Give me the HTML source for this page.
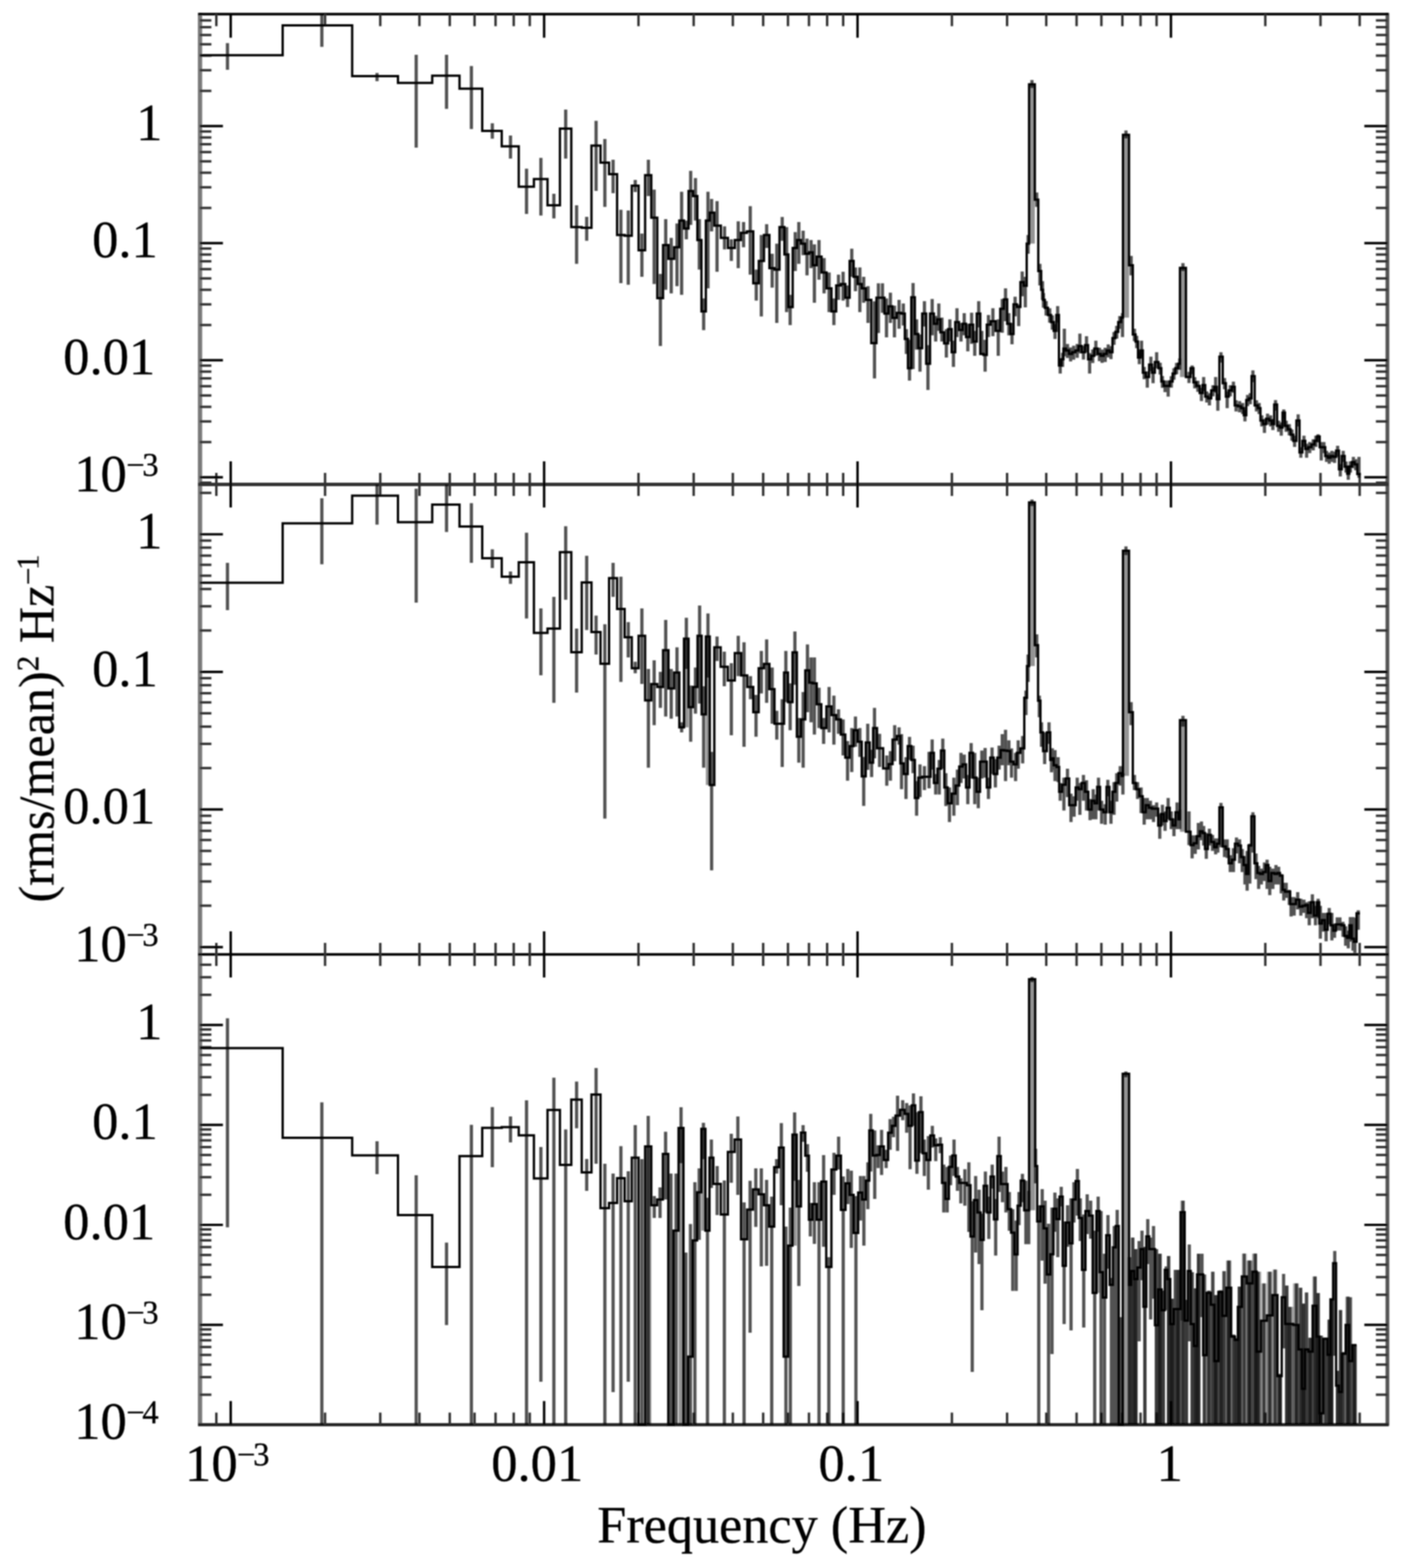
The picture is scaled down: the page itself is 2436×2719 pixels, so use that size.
<!DOCTYPE html>
<html><head><meta charset="utf-8"><title>Power spectra</title>
<style>html,body{margin:0;padding:0;background:#fff;width:100%;height:100%;overflow:hidden;}svg{display:block;width:100vw;height:100vh;}</style></head>
<body>
<svg viewBox="0 0 2436 2719" preserveAspectRatio="none" role="img" aria-label="Power spectra: (rms/mean) squared per Hz versus frequency (Hz), three panels">
<defs><filter id="b" x="0" y="0" width="100%" height="100%" filterUnits="userSpaceOnUse"><feGaussianBlur stdDeviation="1.1"/></filter></defs>
<rect width="2436" height="2719" fill="#fff"/>
<g filter="url(#b)">
<g id="frame" stroke-linecap="butt">
<line x1="346.8" y1="22.4" x2="346.8" y2="2472.5" stroke="#7a7a7a" stroke-width="7.5"/>
<line x1="2405.5" y1="22.4" x2="2405.5" y2="2472.5" stroke="#555" stroke-width="6.5"/>
<line x1="343.5" y1="24.4" x2="2407.5" y2="24.4" stroke="#000" stroke-width="4.5"/>
<line x1="343.5" y1="840.0" x2="2407.5" y2="840.0" stroke="#333" stroke-width="6"/>
<line x1="343.5" y1="1655.0" x2="2407.5" y2="1655.0" stroke="#000" stroke-width="4.5"/>
<line x1="343.5" y1="2470.5" x2="2407.5" y2="2470.5" stroke="#222" stroke-width="5.5"/>
<line x1="375.1" y1="24.4" x2="375.1" y2="45.4" stroke="#333" stroke-width="4.2"/>
<line x1="375.1" y1="820.0" x2="375.1" y2="860.0" stroke="#333" stroke-width="4.2"/>
<line x1="375.1" y1="1635.0" x2="375.1" y2="1675.0" stroke="#333" stroke-width="4.2"/>
<line x1="375.1" y1="2449.5" x2="375.1" y2="2470.5" stroke="#333" stroke-width="4.2"/>
<line x1="400.0" y1="24.4" x2="400.0" y2="65.4" stroke="#000" stroke-width="4.2"/>
<line x1="400.0" y1="800.0" x2="400.0" y2="880.0" stroke="#000" stroke-width="4.2"/>
<line x1="400.0" y1="1615.0" x2="400.0" y2="1695.0" stroke="#000" stroke-width="4.2"/>
<line x1="400.0" y1="2429.5" x2="400.0" y2="2470.5" stroke="#000" stroke-width="4.2"/>
<line x1="563.6" y1="24.4" x2="563.6" y2="45.4" stroke="#333" stroke-width="4.2"/>
<line x1="563.6" y1="820.0" x2="563.6" y2="860.0" stroke="#333" stroke-width="4.2"/>
<line x1="563.6" y1="1635.0" x2="563.6" y2="1675.0" stroke="#333" stroke-width="4.2"/>
<line x1="563.6" y1="2449.5" x2="563.6" y2="2470.5" stroke="#333" stroke-width="4.2"/>
<line x1="659.3" y1="24.4" x2="659.3" y2="45.4" stroke="#333" stroke-width="4.2"/>
<line x1="659.3" y1="820.0" x2="659.3" y2="860.0" stroke="#333" stroke-width="4.2"/>
<line x1="659.3" y1="1635.0" x2="659.3" y2="1675.0" stroke="#333" stroke-width="4.2"/>
<line x1="659.3" y1="2449.5" x2="659.3" y2="2470.5" stroke="#333" stroke-width="4.2"/>
<line x1="727.2" y1="24.4" x2="727.2" y2="45.4" stroke="#333" stroke-width="4.2"/>
<line x1="727.2" y1="820.0" x2="727.2" y2="860.0" stroke="#333" stroke-width="4.2"/>
<line x1="727.2" y1="1635.0" x2="727.2" y2="1675.0" stroke="#333" stroke-width="4.2"/>
<line x1="727.2" y1="2449.5" x2="727.2" y2="2470.5" stroke="#333" stroke-width="4.2"/>
<line x1="779.8" y1="24.4" x2="779.8" y2="45.4" stroke="#333" stroke-width="4.2"/>
<line x1="779.8" y1="820.0" x2="779.8" y2="860.0" stroke="#333" stroke-width="4.2"/>
<line x1="779.8" y1="1635.0" x2="779.8" y2="1675.0" stroke="#333" stroke-width="4.2"/>
<line x1="779.8" y1="2449.5" x2="779.8" y2="2470.5" stroke="#333" stroke-width="4.2"/>
<line x1="822.8" y1="24.4" x2="822.8" y2="45.4" stroke="#333" stroke-width="4.2"/>
<line x1="822.8" y1="820.0" x2="822.8" y2="860.0" stroke="#333" stroke-width="4.2"/>
<line x1="822.8" y1="1635.0" x2="822.8" y2="1675.0" stroke="#333" stroke-width="4.2"/>
<line x1="822.8" y1="2449.5" x2="822.8" y2="2470.5" stroke="#333" stroke-width="4.2"/>
<line x1="859.2" y1="24.4" x2="859.2" y2="45.4" stroke="#333" stroke-width="4.2"/>
<line x1="859.2" y1="820.0" x2="859.2" y2="860.0" stroke="#333" stroke-width="4.2"/>
<line x1="859.2" y1="1635.0" x2="859.2" y2="1675.0" stroke="#333" stroke-width="4.2"/>
<line x1="859.2" y1="2449.5" x2="859.2" y2="2470.5" stroke="#333" stroke-width="4.2"/>
<line x1="890.7" y1="24.4" x2="890.7" y2="45.4" stroke="#333" stroke-width="4.2"/>
<line x1="890.7" y1="820.0" x2="890.7" y2="860.0" stroke="#333" stroke-width="4.2"/>
<line x1="890.7" y1="1635.0" x2="890.7" y2="1675.0" stroke="#333" stroke-width="4.2"/>
<line x1="890.7" y1="2449.5" x2="890.7" y2="2470.5" stroke="#333" stroke-width="4.2"/>
<line x1="918.5" y1="24.4" x2="918.5" y2="45.4" stroke="#333" stroke-width="4.2"/>
<line x1="918.5" y1="820.0" x2="918.5" y2="860.0" stroke="#333" stroke-width="4.2"/>
<line x1="918.5" y1="1635.0" x2="918.5" y2="1675.0" stroke="#333" stroke-width="4.2"/>
<line x1="918.5" y1="2449.5" x2="918.5" y2="2470.5" stroke="#333" stroke-width="4.2"/>
<line x1="943.4" y1="24.4" x2="943.4" y2="65.4" stroke="#000" stroke-width="4.2"/>
<line x1="943.4" y1="800.0" x2="943.4" y2="880.0" stroke="#000" stroke-width="4.2"/>
<line x1="943.4" y1="1615.0" x2="943.4" y2="1695.0" stroke="#000" stroke-width="4.2"/>
<line x1="943.4" y1="2429.5" x2="943.4" y2="2470.5" stroke="#000" stroke-width="4.2"/>
<line x1="1107.0" y1="24.4" x2="1107.0" y2="45.4" stroke="#333" stroke-width="4.2"/>
<line x1="1107.0" y1="820.0" x2="1107.0" y2="860.0" stroke="#333" stroke-width="4.2"/>
<line x1="1107.0" y1="1635.0" x2="1107.0" y2="1675.0" stroke="#333" stroke-width="4.2"/>
<line x1="1107.0" y1="2449.5" x2="1107.0" y2="2470.5" stroke="#333" stroke-width="4.2"/>
<line x1="1202.7" y1="24.4" x2="1202.7" y2="45.4" stroke="#333" stroke-width="4.2"/>
<line x1="1202.7" y1="820.0" x2="1202.7" y2="860.0" stroke="#333" stroke-width="4.2"/>
<line x1="1202.7" y1="1635.0" x2="1202.7" y2="1675.0" stroke="#333" stroke-width="4.2"/>
<line x1="1202.7" y1="2449.5" x2="1202.7" y2="2470.5" stroke="#333" stroke-width="4.2"/>
<line x1="1270.6" y1="24.4" x2="1270.6" y2="45.4" stroke="#333" stroke-width="4.2"/>
<line x1="1270.6" y1="820.0" x2="1270.6" y2="860.0" stroke="#333" stroke-width="4.2"/>
<line x1="1270.6" y1="1635.0" x2="1270.6" y2="1675.0" stroke="#333" stroke-width="4.2"/>
<line x1="1270.6" y1="2449.5" x2="1270.6" y2="2470.5" stroke="#333" stroke-width="4.2"/>
<line x1="1323.2" y1="24.4" x2="1323.2" y2="45.4" stroke="#333" stroke-width="4.2"/>
<line x1="1323.2" y1="820.0" x2="1323.2" y2="860.0" stroke="#333" stroke-width="4.2"/>
<line x1="1323.2" y1="1635.0" x2="1323.2" y2="1675.0" stroke="#333" stroke-width="4.2"/>
<line x1="1323.2" y1="2449.5" x2="1323.2" y2="2470.5" stroke="#333" stroke-width="4.2"/>
<line x1="1366.2" y1="24.4" x2="1366.2" y2="45.4" stroke="#333" stroke-width="4.2"/>
<line x1="1366.2" y1="820.0" x2="1366.2" y2="860.0" stroke="#333" stroke-width="4.2"/>
<line x1="1366.2" y1="1635.0" x2="1366.2" y2="1675.0" stroke="#333" stroke-width="4.2"/>
<line x1="1366.2" y1="2449.5" x2="1366.2" y2="2470.5" stroke="#333" stroke-width="4.2"/>
<line x1="1402.6" y1="24.4" x2="1402.6" y2="45.4" stroke="#333" stroke-width="4.2"/>
<line x1="1402.6" y1="820.0" x2="1402.6" y2="860.0" stroke="#333" stroke-width="4.2"/>
<line x1="1402.6" y1="1635.0" x2="1402.6" y2="1675.0" stroke="#333" stroke-width="4.2"/>
<line x1="1402.6" y1="2449.5" x2="1402.6" y2="2470.5" stroke="#333" stroke-width="4.2"/>
<line x1="1434.1" y1="24.4" x2="1434.1" y2="45.4" stroke="#333" stroke-width="4.2"/>
<line x1="1434.1" y1="820.0" x2="1434.1" y2="860.0" stroke="#333" stroke-width="4.2"/>
<line x1="1434.1" y1="1635.0" x2="1434.1" y2="1675.0" stroke="#333" stroke-width="4.2"/>
<line x1="1434.1" y1="2449.5" x2="1434.1" y2="2470.5" stroke="#333" stroke-width="4.2"/>
<line x1="1461.9" y1="24.4" x2="1461.9" y2="45.4" stroke="#333" stroke-width="4.2"/>
<line x1="1461.9" y1="820.0" x2="1461.9" y2="860.0" stroke="#333" stroke-width="4.2"/>
<line x1="1461.9" y1="1635.0" x2="1461.9" y2="1675.0" stroke="#333" stroke-width="4.2"/>
<line x1="1461.9" y1="2449.5" x2="1461.9" y2="2470.5" stroke="#333" stroke-width="4.2"/>
<line x1="1486.8" y1="24.4" x2="1486.8" y2="65.4" stroke="#000" stroke-width="4.2"/>
<line x1="1486.8" y1="800.0" x2="1486.8" y2="880.0" stroke="#000" stroke-width="4.2"/>
<line x1="1486.8" y1="1615.0" x2="1486.8" y2="1695.0" stroke="#000" stroke-width="4.2"/>
<line x1="1486.8" y1="2429.5" x2="1486.8" y2="2470.5" stroke="#000" stroke-width="4.2"/>
<line x1="1650.4" y1="24.4" x2="1650.4" y2="45.4" stroke="#333" stroke-width="4.2"/>
<line x1="1650.4" y1="820.0" x2="1650.4" y2="860.0" stroke="#333" stroke-width="4.2"/>
<line x1="1650.4" y1="1635.0" x2="1650.4" y2="1675.0" stroke="#333" stroke-width="4.2"/>
<line x1="1650.4" y1="2449.5" x2="1650.4" y2="2470.5" stroke="#333" stroke-width="4.2"/>
<line x1="1746.1" y1="24.4" x2="1746.1" y2="45.4" stroke="#333" stroke-width="4.2"/>
<line x1="1746.1" y1="820.0" x2="1746.1" y2="860.0" stroke="#333" stroke-width="4.2"/>
<line x1="1746.1" y1="1635.0" x2="1746.1" y2="1675.0" stroke="#333" stroke-width="4.2"/>
<line x1="1746.1" y1="2449.5" x2="1746.1" y2="2470.5" stroke="#333" stroke-width="4.2"/>
<line x1="1814.0" y1="24.4" x2="1814.0" y2="45.4" stroke="#333" stroke-width="4.2"/>
<line x1="1814.0" y1="820.0" x2="1814.0" y2="860.0" stroke="#333" stroke-width="4.2"/>
<line x1="1814.0" y1="1635.0" x2="1814.0" y2="1675.0" stroke="#333" stroke-width="4.2"/>
<line x1="1814.0" y1="2449.5" x2="1814.0" y2="2470.5" stroke="#333" stroke-width="4.2"/>
<line x1="1866.6" y1="24.4" x2="1866.6" y2="45.4" stroke="#333" stroke-width="4.2"/>
<line x1="1866.6" y1="820.0" x2="1866.6" y2="860.0" stroke="#333" stroke-width="4.2"/>
<line x1="1866.6" y1="1635.0" x2="1866.6" y2="1675.0" stroke="#333" stroke-width="4.2"/>
<line x1="1866.6" y1="2449.5" x2="1866.6" y2="2470.5" stroke="#333" stroke-width="4.2"/>
<line x1="1909.6" y1="24.4" x2="1909.6" y2="45.4" stroke="#333" stroke-width="4.2"/>
<line x1="1909.6" y1="820.0" x2="1909.6" y2="860.0" stroke="#333" stroke-width="4.2"/>
<line x1="1909.6" y1="1635.0" x2="1909.6" y2="1675.0" stroke="#333" stroke-width="4.2"/>
<line x1="1909.6" y1="2449.5" x2="1909.6" y2="2470.5" stroke="#333" stroke-width="4.2"/>
<line x1="1946.0" y1="24.4" x2="1946.0" y2="45.4" stroke="#333" stroke-width="4.2"/>
<line x1="1946.0" y1="820.0" x2="1946.0" y2="860.0" stroke="#333" stroke-width="4.2"/>
<line x1="1946.0" y1="1635.0" x2="1946.0" y2="1675.0" stroke="#333" stroke-width="4.2"/>
<line x1="1946.0" y1="2449.5" x2="1946.0" y2="2470.5" stroke="#333" stroke-width="4.2"/>
<line x1="1977.5" y1="24.4" x2="1977.5" y2="45.4" stroke="#333" stroke-width="4.2"/>
<line x1="1977.5" y1="820.0" x2="1977.5" y2="860.0" stroke="#333" stroke-width="4.2"/>
<line x1="1977.5" y1="1635.0" x2="1977.5" y2="1675.0" stroke="#333" stroke-width="4.2"/>
<line x1="1977.5" y1="2449.5" x2="1977.5" y2="2470.5" stroke="#333" stroke-width="4.2"/>
<line x1="2005.3" y1="24.4" x2="2005.3" y2="45.4" stroke="#333" stroke-width="4.2"/>
<line x1="2005.3" y1="820.0" x2="2005.3" y2="860.0" stroke="#333" stroke-width="4.2"/>
<line x1="2005.3" y1="1635.0" x2="2005.3" y2="1675.0" stroke="#333" stroke-width="4.2"/>
<line x1="2005.3" y1="2449.5" x2="2005.3" y2="2470.5" stroke="#333" stroke-width="4.2"/>
<line x1="2030.2" y1="24.4" x2="2030.2" y2="65.4" stroke="#000" stroke-width="4.2"/>
<line x1="2030.2" y1="800.0" x2="2030.2" y2="880.0" stroke="#000" stroke-width="4.2"/>
<line x1="2030.2" y1="1615.0" x2="2030.2" y2="1695.0" stroke="#000" stroke-width="4.2"/>
<line x1="2030.2" y1="2429.5" x2="2030.2" y2="2470.5" stroke="#000" stroke-width="4.2"/>
<line x1="2193.8" y1="24.4" x2="2193.8" y2="45.4" stroke="#333" stroke-width="4.2"/>
<line x1="2193.8" y1="820.0" x2="2193.8" y2="860.0" stroke="#333" stroke-width="4.2"/>
<line x1="2193.8" y1="1635.0" x2="2193.8" y2="1675.0" stroke="#333" stroke-width="4.2"/>
<line x1="2193.8" y1="2449.5" x2="2193.8" y2="2470.5" stroke="#333" stroke-width="4.2"/>
<line x1="2289.5" y1="24.4" x2="2289.5" y2="45.4" stroke="#333" stroke-width="4.2"/>
<line x1="2289.5" y1="820.0" x2="2289.5" y2="860.0" stroke="#333" stroke-width="4.2"/>
<line x1="2289.5" y1="1635.0" x2="2289.5" y2="1675.0" stroke="#333" stroke-width="4.2"/>
<line x1="2289.5" y1="2449.5" x2="2289.5" y2="2470.5" stroke="#333" stroke-width="4.2"/>
<line x1="2357.4" y1="24.4" x2="2357.4" y2="45.4" stroke="#333" stroke-width="4.2"/>
<line x1="2357.4" y1="820.0" x2="2357.4" y2="860.0" stroke="#333" stroke-width="4.2"/>
<line x1="2357.4" y1="1635.0" x2="2357.4" y2="1675.0" stroke="#333" stroke-width="4.2"/>
<line x1="2357.4" y1="2449.5" x2="2357.4" y2="2470.5" stroke="#333" stroke-width="4.2"/>
<line x1="346.5" y1="837.0" x2="366.5" y2="837.0" stroke="#333" stroke-width="4.2"/>
<line x1="2385.5" y1="837.0" x2="2405.5" y2="837.0" stroke="#333" stroke-width="4.2"/>
<line x1="346.5" y1="827.7" x2="386.5" y2="827.7" stroke="#000" stroke-width="4.2"/>
<line x1="2365.5" y1="827.7" x2="2405.5" y2="827.7" stroke="#000" stroke-width="4.2"/>
<line x1="346.5" y1="766.6" x2="366.5" y2="766.6" stroke="#333" stroke-width="4.2"/>
<line x1="2385.5" y1="766.6" x2="2405.5" y2="766.6" stroke="#333" stroke-width="4.2"/>
<line x1="346.5" y1="730.8" x2="366.5" y2="730.8" stroke="#333" stroke-width="4.2"/>
<line x1="2385.5" y1="730.8" x2="2405.5" y2="730.8" stroke="#333" stroke-width="4.2"/>
<line x1="346.5" y1="705.5" x2="366.5" y2="705.5" stroke="#333" stroke-width="4.2"/>
<line x1="2385.5" y1="705.5" x2="2405.5" y2="705.5" stroke="#333" stroke-width="4.2"/>
<line x1="346.5" y1="685.8" x2="366.5" y2="685.8" stroke="#333" stroke-width="4.2"/>
<line x1="2385.5" y1="685.8" x2="2405.5" y2="685.8" stroke="#333" stroke-width="4.2"/>
<line x1="346.5" y1="669.7" x2="366.5" y2="669.7" stroke="#333" stroke-width="4.2"/>
<line x1="2385.5" y1="669.7" x2="2405.5" y2="669.7" stroke="#333" stroke-width="4.2"/>
<line x1="346.5" y1="656.1" x2="366.5" y2="656.1" stroke="#333" stroke-width="4.2"/>
<line x1="2385.5" y1="656.1" x2="2405.5" y2="656.1" stroke="#333" stroke-width="4.2"/>
<line x1="346.5" y1="644.4" x2="366.5" y2="644.4" stroke="#333" stroke-width="4.2"/>
<line x1="2385.5" y1="644.4" x2="2405.5" y2="644.4" stroke="#333" stroke-width="4.2"/>
<line x1="346.5" y1="634.0" x2="366.5" y2="634.0" stroke="#333" stroke-width="4.2"/>
<line x1="2385.5" y1="634.0" x2="2405.5" y2="634.0" stroke="#333" stroke-width="4.2"/>
<line x1="346.5" y1="624.7" x2="386.5" y2="624.7" stroke="#000" stroke-width="4.2"/>
<line x1="2365.5" y1="624.7" x2="2405.5" y2="624.7" stroke="#000" stroke-width="4.2"/>
<line x1="346.5" y1="563.6" x2="366.5" y2="563.6" stroke="#333" stroke-width="4.2"/>
<line x1="2385.5" y1="563.6" x2="2405.5" y2="563.6" stroke="#333" stroke-width="4.2"/>
<line x1="346.5" y1="527.8" x2="366.5" y2="527.8" stroke="#333" stroke-width="4.2"/>
<line x1="2385.5" y1="527.8" x2="2405.5" y2="527.8" stroke="#333" stroke-width="4.2"/>
<line x1="346.5" y1="502.5" x2="366.5" y2="502.5" stroke="#333" stroke-width="4.2"/>
<line x1="2385.5" y1="502.5" x2="2405.5" y2="502.5" stroke="#333" stroke-width="4.2"/>
<line x1="346.5" y1="482.8" x2="366.5" y2="482.8" stroke="#333" stroke-width="4.2"/>
<line x1="2385.5" y1="482.8" x2="2405.5" y2="482.8" stroke="#333" stroke-width="4.2"/>
<line x1="346.5" y1="466.7" x2="366.5" y2="466.7" stroke="#333" stroke-width="4.2"/>
<line x1="2385.5" y1="466.7" x2="2405.5" y2="466.7" stroke="#333" stroke-width="4.2"/>
<line x1="346.5" y1="453.1" x2="366.5" y2="453.1" stroke="#333" stroke-width="4.2"/>
<line x1="2385.5" y1="453.1" x2="2405.5" y2="453.1" stroke="#333" stroke-width="4.2"/>
<line x1="346.5" y1="441.4" x2="366.5" y2="441.4" stroke="#333" stroke-width="4.2"/>
<line x1="2385.5" y1="441.4" x2="2405.5" y2="441.4" stroke="#333" stroke-width="4.2"/>
<line x1="346.5" y1="431.0" x2="366.5" y2="431.0" stroke="#333" stroke-width="4.2"/>
<line x1="2385.5" y1="431.0" x2="2405.5" y2="431.0" stroke="#333" stroke-width="4.2"/>
<line x1="346.5" y1="421.7" x2="386.5" y2="421.7" stroke="#000" stroke-width="4.2"/>
<line x1="2365.5" y1="421.7" x2="2405.5" y2="421.7" stroke="#000" stroke-width="4.2"/>
<line x1="346.5" y1="360.6" x2="366.5" y2="360.6" stroke="#333" stroke-width="4.2"/>
<line x1="2385.5" y1="360.6" x2="2405.5" y2="360.6" stroke="#333" stroke-width="4.2"/>
<line x1="346.5" y1="324.8" x2="366.5" y2="324.8" stroke="#333" stroke-width="4.2"/>
<line x1="2385.5" y1="324.8" x2="2405.5" y2="324.8" stroke="#333" stroke-width="4.2"/>
<line x1="346.5" y1="299.5" x2="366.5" y2="299.5" stroke="#333" stroke-width="4.2"/>
<line x1="2385.5" y1="299.5" x2="2405.5" y2="299.5" stroke="#333" stroke-width="4.2"/>
<line x1="346.5" y1="279.8" x2="366.5" y2="279.8" stroke="#333" stroke-width="4.2"/>
<line x1="2385.5" y1="279.8" x2="2405.5" y2="279.8" stroke="#333" stroke-width="4.2"/>
<line x1="346.5" y1="263.7" x2="366.5" y2="263.7" stroke="#333" stroke-width="4.2"/>
<line x1="2385.5" y1="263.7" x2="2405.5" y2="263.7" stroke="#333" stroke-width="4.2"/>
<line x1="346.5" y1="250.1" x2="366.5" y2="250.1" stroke="#333" stroke-width="4.2"/>
<line x1="2385.5" y1="250.1" x2="2405.5" y2="250.1" stroke="#333" stroke-width="4.2"/>
<line x1="346.5" y1="238.4" x2="366.5" y2="238.4" stroke="#333" stroke-width="4.2"/>
<line x1="2385.5" y1="238.4" x2="2405.5" y2="238.4" stroke="#333" stroke-width="4.2"/>
<line x1="346.5" y1="228.0" x2="366.5" y2="228.0" stroke="#333" stroke-width="4.2"/>
<line x1="2385.5" y1="228.0" x2="2405.5" y2="228.0" stroke="#333" stroke-width="4.2"/>
<line x1="346.5" y1="218.7" x2="386.5" y2="218.7" stroke="#000" stroke-width="4.2"/>
<line x1="2365.5" y1="218.7" x2="2405.5" y2="218.7" stroke="#000" stroke-width="4.2"/>
<line x1="346.5" y1="157.6" x2="366.5" y2="157.6" stroke="#333" stroke-width="4.2"/>
<line x1="2385.5" y1="157.6" x2="2405.5" y2="157.6" stroke="#333" stroke-width="4.2"/>
<line x1="346.5" y1="121.8" x2="366.5" y2="121.8" stroke="#333" stroke-width="4.2"/>
<line x1="2385.5" y1="121.8" x2="2405.5" y2="121.8" stroke="#333" stroke-width="4.2"/>
<line x1="346.5" y1="96.5" x2="366.5" y2="96.5" stroke="#333" stroke-width="4.2"/>
<line x1="2385.5" y1="96.5" x2="2405.5" y2="96.5" stroke="#333" stroke-width="4.2"/>
<line x1="346.5" y1="76.8" x2="366.5" y2="76.8" stroke="#333" stroke-width="4.2"/>
<line x1="2385.5" y1="76.8" x2="2405.5" y2="76.8" stroke="#333" stroke-width="4.2"/>
<line x1="346.5" y1="60.7" x2="366.5" y2="60.7" stroke="#333" stroke-width="4.2"/>
<line x1="2385.5" y1="60.7" x2="2405.5" y2="60.7" stroke="#333" stroke-width="4.2"/>
<line x1="346.5" y1="47.1" x2="366.5" y2="47.1" stroke="#333" stroke-width="4.2"/>
<line x1="2385.5" y1="47.1" x2="2405.5" y2="47.1" stroke="#333" stroke-width="4.2"/>
<line x1="346.5" y1="35.4" x2="366.5" y2="35.4" stroke="#333" stroke-width="4.2"/>
<line x1="2385.5" y1="35.4" x2="2405.5" y2="35.4" stroke="#333" stroke-width="4.2"/>
<line x1="346.5" y1="1642.3" x2="386.5" y2="1642.3" stroke="#000" stroke-width="4.2"/>
<line x1="2365.5" y1="1642.3" x2="2405.5" y2="1642.3" stroke="#000" stroke-width="4.2"/>
<line x1="346.5" y1="1570.5" x2="366.5" y2="1570.5" stroke="#333" stroke-width="4.2"/>
<line x1="2385.5" y1="1570.5" x2="2405.5" y2="1570.5" stroke="#333" stroke-width="4.2"/>
<line x1="346.5" y1="1528.5" x2="366.5" y2="1528.5" stroke="#333" stroke-width="4.2"/>
<line x1="2385.5" y1="1528.5" x2="2405.5" y2="1528.5" stroke="#333" stroke-width="4.2"/>
<line x1="346.5" y1="1498.6" x2="366.5" y2="1498.6" stroke="#333" stroke-width="4.2"/>
<line x1="2385.5" y1="1498.6" x2="2405.5" y2="1498.6" stroke="#333" stroke-width="4.2"/>
<line x1="346.5" y1="1475.5" x2="366.5" y2="1475.5" stroke="#333" stroke-width="4.2"/>
<line x1="2385.5" y1="1475.5" x2="2405.5" y2="1475.5" stroke="#333" stroke-width="4.2"/>
<line x1="346.5" y1="1456.6" x2="366.5" y2="1456.6" stroke="#333" stroke-width="4.2"/>
<line x1="2385.5" y1="1456.6" x2="2405.5" y2="1456.6" stroke="#333" stroke-width="4.2"/>
<line x1="346.5" y1="1440.7" x2="366.5" y2="1440.7" stroke="#333" stroke-width="4.2"/>
<line x1="2385.5" y1="1440.7" x2="2405.5" y2="1440.7" stroke="#333" stroke-width="4.2"/>
<line x1="346.5" y1="1426.8" x2="366.5" y2="1426.8" stroke="#333" stroke-width="4.2"/>
<line x1="2385.5" y1="1426.8" x2="2405.5" y2="1426.8" stroke="#333" stroke-width="4.2"/>
<line x1="346.5" y1="1414.6" x2="366.5" y2="1414.6" stroke="#333" stroke-width="4.2"/>
<line x1="2385.5" y1="1414.6" x2="2405.5" y2="1414.6" stroke="#333" stroke-width="4.2"/>
<line x1="346.5" y1="1403.7" x2="386.5" y2="1403.7" stroke="#000" stroke-width="4.2"/>
<line x1="2365.5" y1="1403.7" x2="2405.5" y2="1403.7" stroke="#000" stroke-width="4.2"/>
<line x1="346.5" y1="1331.9" x2="366.5" y2="1331.9" stroke="#333" stroke-width="4.2"/>
<line x1="2385.5" y1="1331.9" x2="2405.5" y2="1331.9" stroke="#333" stroke-width="4.2"/>
<line x1="346.5" y1="1289.9" x2="366.5" y2="1289.9" stroke="#333" stroke-width="4.2"/>
<line x1="2385.5" y1="1289.9" x2="2405.5" y2="1289.9" stroke="#333" stroke-width="4.2"/>
<line x1="346.5" y1="1260.0" x2="366.5" y2="1260.0" stroke="#333" stroke-width="4.2"/>
<line x1="2385.5" y1="1260.0" x2="2405.5" y2="1260.0" stroke="#333" stroke-width="4.2"/>
<line x1="346.5" y1="1236.9" x2="366.5" y2="1236.9" stroke="#333" stroke-width="4.2"/>
<line x1="2385.5" y1="1236.9" x2="2405.5" y2="1236.9" stroke="#333" stroke-width="4.2"/>
<line x1="346.5" y1="1218.0" x2="366.5" y2="1218.0" stroke="#333" stroke-width="4.2"/>
<line x1="2385.5" y1="1218.0" x2="2405.5" y2="1218.0" stroke="#333" stroke-width="4.2"/>
<line x1="346.5" y1="1202.1" x2="366.5" y2="1202.1" stroke="#333" stroke-width="4.2"/>
<line x1="2385.5" y1="1202.1" x2="2405.5" y2="1202.1" stroke="#333" stroke-width="4.2"/>
<line x1="346.5" y1="1188.2" x2="366.5" y2="1188.2" stroke="#333" stroke-width="4.2"/>
<line x1="2385.5" y1="1188.2" x2="2405.5" y2="1188.2" stroke="#333" stroke-width="4.2"/>
<line x1="346.5" y1="1176.0" x2="366.5" y2="1176.0" stroke="#333" stroke-width="4.2"/>
<line x1="2385.5" y1="1176.0" x2="2405.5" y2="1176.0" stroke="#333" stroke-width="4.2"/>
<line x1="346.5" y1="1165.1" x2="386.5" y2="1165.1" stroke="#000" stroke-width="4.2"/>
<line x1="2365.5" y1="1165.1" x2="2405.5" y2="1165.1" stroke="#000" stroke-width="4.2"/>
<line x1="346.5" y1="1093.3" x2="366.5" y2="1093.3" stroke="#333" stroke-width="4.2"/>
<line x1="2385.5" y1="1093.3" x2="2405.5" y2="1093.3" stroke="#333" stroke-width="4.2"/>
<line x1="346.5" y1="1051.3" x2="366.5" y2="1051.3" stroke="#333" stroke-width="4.2"/>
<line x1="2385.5" y1="1051.3" x2="2405.5" y2="1051.3" stroke="#333" stroke-width="4.2"/>
<line x1="346.5" y1="1021.4" x2="366.5" y2="1021.4" stroke="#333" stroke-width="4.2"/>
<line x1="2385.5" y1="1021.4" x2="2405.5" y2="1021.4" stroke="#333" stroke-width="4.2"/>
<line x1="346.5" y1="998.3" x2="366.5" y2="998.3" stroke="#333" stroke-width="4.2"/>
<line x1="2385.5" y1="998.3" x2="2405.5" y2="998.3" stroke="#333" stroke-width="4.2"/>
<line x1="346.5" y1="979.4" x2="366.5" y2="979.4" stroke="#333" stroke-width="4.2"/>
<line x1="2385.5" y1="979.4" x2="2405.5" y2="979.4" stroke="#333" stroke-width="4.2"/>
<line x1="346.5" y1="963.5" x2="366.5" y2="963.5" stroke="#333" stroke-width="4.2"/>
<line x1="2385.5" y1="963.5" x2="2405.5" y2="963.5" stroke="#333" stroke-width="4.2"/>
<line x1="346.5" y1="949.6" x2="366.5" y2="949.6" stroke="#333" stroke-width="4.2"/>
<line x1="2385.5" y1="949.6" x2="2405.5" y2="949.6" stroke="#333" stroke-width="4.2"/>
<line x1="346.5" y1="937.4" x2="366.5" y2="937.4" stroke="#333" stroke-width="4.2"/>
<line x1="2385.5" y1="937.4" x2="2405.5" y2="937.4" stroke="#333" stroke-width="4.2"/>
<line x1="346.5" y1="926.5" x2="386.5" y2="926.5" stroke="#000" stroke-width="4.2"/>
<line x1="2365.5" y1="926.5" x2="2405.5" y2="926.5" stroke="#000" stroke-width="4.2"/>
<line x1="346.5" y1="854.7" x2="366.5" y2="854.7" stroke="#333" stroke-width="4.2"/>
<line x1="2385.5" y1="854.7" x2="2405.5" y2="854.7" stroke="#333" stroke-width="4.2"/>
<line x1="346.5" y1="2418.5" x2="366.5" y2="2418.5" stroke="#333" stroke-width="4.2"/>
<line x1="2385.5" y1="2418.5" x2="2405.5" y2="2418.5" stroke="#333" stroke-width="4.2"/>
<line x1="346.5" y1="2388.0" x2="366.5" y2="2388.0" stroke="#333" stroke-width="4.2"/>
<line x1="2385.5" y1="2388.0" x2="2405.5" y2="2388.0" stroke="#333" stroke-width="4.2"/>
<line x1="346.5" y1="2366.3" x2="366.5" y2="2366.3" stroke="#333" stroke-width="4.2"/>
<line x1="2385.5" y1="2366.3" x2="2405.5" y2="2366.3" stroke="#333" stroke-width="4.2"/>
<line x1="346.5" y1="2349.5" x2="366.5" y2="2349.5" stroke="#333" stroke-width="4.2"/>
<line x1="2385.5" y1="2349.5" x2="2405.5" y2="2349.5" stroke="#333" stroke-width="4.2"/>
<line x1="346.5" y1="2335.8" x2="366.5" y2="2335.8" stroke="#333" stroke-width="4.2"/>
<line x1="2385.5" y1="2335.8" x2="2405.5" y2="2335.8" stroke="#333" stroke-width="4.2"/>
<line x1="346.5" y1="2324.2" x2="366.5" y2="2324.2" stroke="#333" stroke-width="4.2"/>
<line x1="2385.5" y1="2324.2" x2="2405.5" y2="2324.2" stroke="#333" stroke-width="4.2"/>
<line x1="346.5" y1="2314.1" x2="366.5" y2="2314.1" stroke="#333" stroke-width="4.2"/>
<line x1="2385.5" y1="2314.1" x2="2405.5" y2="2314.1" stroke="#333" stroke-width="4.2"/>
<line x1="346.5" y1="2305.3" x2="366.5" y2="2305.3" stroke="#333" stroke-width="4.2"/>
<line x1="2385.5" y1="2305.3" x2="2405.5" y2="2305.3" stroke="#333" stroke-width="4.2"/>
<line x1="346.5" y1="2297.3" x2="386.5" y2="2297.3" stroke="#000" stroke-width="4.2"/>
<line x1="2365.5" y1="2297.3" x2="2405.5" y2="2297.3" stroke="#000" stroke-width="4.2"/>
<line x1="346.5" y1="2245.2" x2="366.5" y2="2245.2" stroke="#333" stroke-width="4.2"/>
<line x1="2385.5" y1="2245.2" x2="2405.5" y2="2245.2" stroke="#333" stroke-width="4.2"/>
<line x1="346.5" y1="2214.6" x2="366.5" y2="2214.6" stroke="#333" stroke-width="4.2"/>
<line x1="2385.5" y1="2214.6" x2="2405.5" y2="2214.6" stroke="#333" stroke-width="4.2"/>
<line x1="346.5" y1="2193.0" x2="366.5" y2="2193.0" stroke="#333" stroke-width="4.2"/>
<line x1="2385.5" y1="2193.0" x2="2405.5" y2="2193.0" stroke="#333" stroke-width="4.2"/>
<line x1="346.5" y1="2176.2" x2="366.5" y2="2176.2" stroke="#333" stroke-width="4.2"/>
<line x1="2385.5" y1="2176.2" x2="2405.5" y2="2176.2" stroke="#333" stroke-width="4.2"/>
<line x1="346.5" y1="2162.5" x2="366.5" y2="2162.5" stroke="#333" stroke-width="4.2"/>
<line x1="2385.5" y1="2162.5" x2="2405.5" y2="2162.5" stroke="#333" stroke-width="4.2"/>
<line x1="346.5" y1="2150.9" x2="366.5" y2="2150.9" stroke="#333" stroke-width="4.2"/>
<line x1="2385.5" y1="2150.9" x2="2405.5" y2="2150.9" stroke="#333" stroke-width="4.2"/>
<line x1="346.5" y1="2140.8" x2="366.5" y2="2140.8" stroke="#333" stroke-width="4.2"/>
<line x1="2385.5" y1="2140.8" x2="2405.5" y2="2140.8" stroke="#333" stroke-width="4.2"/>
<line x1="346.5" y1="2131.9" x2="366.5" y2="2131.9" stroke="#333" stroke-width="4.2"/>
<line x1="2385.5" y1="2131.9" x2="2405.5" y2="2131.9" stroke="#333" stroke-width="4.2"/>
<line x1="346.5" y1="2124.0" x2="386.5" y2="2124.0" stroke="#000" stroke-width="4.2"/>
<line x1="2365.5" y1="2124.0" x2="2405.5" y2="2124.0" stroke="#000" stroke-width="4.2"/>
<line x1="346.5" y1="2071.8" x2="366.5" y2="2071.8" stroke="#333" stroke-width="4.2"/>
<line x1="2385.5" y1="2071.8" x2="2405.5" y2="2071.8" stroke="#333" stroke-width="4.2"/>
<line x1="346.5" y1="2041.3" x2="366.5" y2="2041.3" stroke="#333" stroke-width="4.2"/>
<line x1="2385.5" y1="2041.3" x2="2405.5" y2="2041.3" stroke="#333" stroke-width="4.2"/>
<line x1="346.5" y1="2019.6" x2="366.5" y2="2019.6" stroke="#333" stroke-width="4.2"/>
<line x1="2385.5" y1="2019.6" x2="2405.5" y2="2019.6" stroke="#333" stroke-width="4.2"/>
<line x1="346.5" y1="2002.8" x2="366.5" y2="2002.8" stroke="#333" stroke-width="4.2"/>
<line x1="2385.5" y1="2002.8" x2="2405.5" y2="2002.8" stroke="#333" stroke-width="4.2"/>
<line x1="346.5" y1="1989.1" x2="366.5" y2="1989.1" stroke="#333" stroke-width="4.2"/>
<line x1="2385.5" y1="1989.1" x2="2405.5" y2="1989.1" stroke="#333" stroke-width="4.2"/>
<line x1="346.5" y1="1977.5" x2="366.5" y2="1977.5" stroke="#333" stroke-width="4.2"/>
<line x1="2385.5" y1="1977.5" x2="2405.5" y2="1977.5" stroke="#333" stroke-width="4.2"/>
<line x1="346.5" y1="1967.4" x2="366.5" y2="1967.4" stroke="#333" stroke-width="4.2"/>
<line x1="2385.5" y1="1967.4" x2="2405.5" y2="1967.4" stroke="#333" stroke-width="4.2"/>
<line x1="346.5" y1="1958.6" x2="366.5" y2="1958.6" stroke="#333" stroke-width="4.2"/>
<line x1="2385.5" y1="1958.6" x2="2405.5" y2="1958.6" stroke="#333" stroke-width="4.2"/>
<line x1="346.5" y1="1950.6" x2="386.5" y2="1950.6" stroke="#000" stroke-width="4.2"/>
<line x1="2365.5" y1="1950.6" x2="2405.5" y2="1950.6" stroke="#000" stroke-width="4.2"/>
<line x1="346.5" y1="1898.5" x2="366.5" y2="1898.5" stroke="#333" stroke-width="4.2"/>
<line x1="2385.5" y1="1898.5" x2="2405.5" y2="1898.5" stroke="#333" stroke-width="4.2"/>
<line x1="346.5" y1="1867.9" x2="366.5" y2="1867.9" stroke="#333" stroke-width="4.2"/>
<line x1="2385.5" y1="1867.9" x2="2405.5" y2="1867.9" stroke="#333" stroke-width="4.2"/>
<line x1="346.5" y1="1846.3" x2="366.5" y2="1846.3" stroke="#333" stroke-width="4.2"/>
<line x1="2385.5" y1="1846.3" x2="2405.5" y2="1846.3" stroke="#333" stroke-width="4.2"/>
<line x1="346.5" y1="1829.5" x2="366.5" y2="1829.5" stroke="#333" stroke-width="4.2"/>
<line x1="2385.5" y1="1829.5" x2="2405.5" y2="1829.5" stroke="#333" stroke-width="4.2"/>
<line x1="346.5" y1="1815.8" x2="366.5" y2="1815.8" stroke="#333" stroke-width="4.2"/>
<line x1="2385.5" y1="1815.8" x2="2405.5" y2="1815.8" stroke="#333" stroke-width="4.2"/>
<line x1="346.5" y1="1804.2" x2="366.5" y2="1804.2" stroke="#333" stroke-width="4.2"/>
<line x1="2385.5" y1="1804.2" x2="2405.5" y2="1804.2" stroke="#333" stroke-width="4.2"/>
<line x1="346.5" y1="1794.1" x2="366.5" y2="1794.1" stroke="#333" stroke-width="4.2"/>
<line x1="2385.5" y1="1794.1" x2="2405.5" y2="1794.1" stroke="#333" stroke-width="4.2"/>
<line x1="346.5" y1="1785.2" x2="366.5" y2="1785.2" stroke="#333" stroke-width="4.2"/>
<line x1="2385.5" y1="1785.2" x2="2405.5" y2="1785.2" stroke="#333" stroke-width="4.2"/>
<line x1="346.5" y1="1777.3" x2="386.5" y2="1777.3" stroke="#000" stroke-width="4.2"/>
<line x1="2365.5" y1="1777.3" x2="2405.5" y2="1777.3" stroke="#000" stroke-width="4.2"/>
<line x1="346.5" y1="1725.1" x2="366.5" y2="1725.1" stroke="#333" stroke-width="4.2"/>
<line x1="2385.5" y1="1725.1" x2="2405.5" y2="1725.1" stroke="#333" stroke-width="4.2"/>
<line x1="346.5" y1="1694.6" x2="366.5" y2="1694.6" stroke="#333" stroke-width="4.2"/>
<line x1="2385.5" y1="1694.6" x2="2405.5" y2="1694.6" stroke="#333" stroke-width="4.2"/>
<line x1="346.5" y1="1672.9" x2="366.5" y2="1672.9" stroke="#333" stroke-width="4.2"/>
<line x1="2385.5" y1="1672.9" x2="2405.5" y2="1672.9" stroke="#333" stroke-width="4.2"/>
</g>
<g id="labels" font-family="'Liberation Serif', serif" fill="#000" stroke="#000" stroke-width="0.5" stroke-linejoin="round">
<text x="281.5" y="243.3" text-anchor="end" font-size="91.2">1</text>
<text x="273.7" y="446.3" text-anchor="end" font-size="91.2">0.1</text>
<text x="269.2" y="649.3" text-anchor="end" font-size="91.2">0.01</text>
<text x="275.0" y="852.3" text-anchor="end" font-size="91.2">10<tspan dx="-1" dy="-26.9" font-size="56.5">−</tspan><tspan dx="-4" font-size="56.5">3</tspan></text>
<text x="281.5" y="951.1" text-anchor="end" font-size="91.2">1</text>
<text x="273.7" y="1189.7" text-anchor="end" font-size="91.2">0.1</text>
<text x="269.2" y="1428.3" text-anchor="end" font-size="91.2">0.01</text>
<text x="275.0" y="1666.9" text-anchor="end" font-size="91.2">10<tspan dx="-1" dy="-26.9" font-size="56.5">−</tspan><tspan dx="-4" font-size="56.5">3</tspan></text>
<text x="281.5" y="1801.9" text-anchor="end" font-size="91.2">1</text>
<text x="273.7" y="1975.2" text-anchor="end" font-size="91.2">0.1</text>
<text x="269.2" y="2148.6" text-anchor="end" font-size="91.2">0.01</text>
<text x="275.0" y="2321.9" text-anchor="end" font-size="91.2">10<tspan dx="-1" dy="-26.9" font-size="56.5">−</tspan><tspan dx="-4" font-size="56.5">3</tspan></text>
<text x="275.0" y="2495.3" text-anchor="end" font-size="91.2">10<tspan dx="-1" dy="-26.9" font-size="56.5">−</tspan><tspan dx="-4" font-size="56.5">4</tspan></text>
<text x="394.0" y="2568.0" text-anchor="middle" font-size="91.2">10<tspan dx="-1" dy="-26.9" font-size="56.5">−</tspan><tspan dx="-4" font-size="56.5">3</tspan></text>
<text x="931.5" y="2568.0" text-anchor="middle" font-size="91.2">0.01</text>
<text x="1476.0" y="2568.0" text-anchor="middle" font-size="91.2">0.1</text>
<text x="2028.0" y="2568.0" text-anchor="middle" font-size="91.2">1</text>
<text x="1321.0" y="2675.0" text-anchor="middle" font-size="90.6">Frequency (Hz)</text>
<text transform="translate(92.6,1565) rotate(-90)" text-anchor="start" font-size="87.0">(rms/mean)<tspan dy="-26.1" font-size="53.9">2</tspan><tspan dy="26.1" font-size="87.0"> Hz</tspan><tspan dx="-1" dy="-26.1" font-size="53.9">−</tspan><tspan dx="-4" font-size="53.9">1</tspan></text>
</g>
<g id="data" fill="none" stroke="#000" stroke-linejoin="miter">
<path d="M346.5 95.8 H490.1 V44.0 H610.6 V131.9 H690.0 V143.7 H749.4 V131.2 H796.7 V153.7 H836.1 V227.0 H869.9 V253.7 H899.4 V323.7 H925.7 V310.5 H949.3 V356.0 H970.8 V223.0 H990.5 V393.7 H1008.6 V395.0 H1025.5 V252.5 H1041.2 V282.0 H1056.0 V302.0 H1069.9 V407.5 H1083.0 V408.7 H1095.4 V322.0 H1107.2 V434.0 H1118.5 V303.8 H1129.2 V377.5 H1139.6 V517.0 H1149.6 V425.0 H1159.0 V448.8 H1168.8 V428.8 H1177.8 V382.5 H1185.9 V396.2 H1193.8 V331.2 H1201.6 V340.0 H1209.1 V416.2 H1216.2 V540.0 H1223.8 V382.5 H1230.6 V368.8 H1238.5 V391.2 H1249.8 V412.5 H1262.1 V430.0 H1274.0 V416.2 H1284.6 V403.8 H1295.0 V401.2 H1306.0 V491.2 H1315.6 V452.5 H1324.6 V407.5 H1334.0 V465.0 H1342.8 V467.5 H1351.5 V393.8 H1360.0 V441.2 H1366.9 V532.5 H1374.4 V430.0 H1381.9 V416.2 H1388.8 V422.5 H1395.9 V440.0 H1402.8 V437.5 H1409.1 V460.0 H1416.0 V445.0 H1424.4 V472.5 H1433.1 V500.0 H1441.6 V540.0 H1449.8 V495.0 H1457.8 V492.5 H1465.6 V516.2 H1473.1 V452.5 H1480.0 V480.0 H1487.0 V492.5 H1494.1 V500.0 H1501.2 V520.0 H1510.6 V595.0 H1519.6 V516.2 H1526.5 V516.2 H1533.5 V543.8 H1540.4 V531.2 H1547.2 V551.2 H1554.8 V542.5 H1562.5 V543.8 H1568.8 V587.7 H1574.2 V638.5 H1580.0 V515.4 H1586.2 V579.2 H1592.2 V603.8 H1598.9 V543.8 H1605.8 V630.8 H1612.5 V543.8 H1619.2 V561.5 H1625.0 V553.8 H1630.4 V576.2 H1636.9 V595.4 H1643.8 V570.8 H1650.0 V610.8 H1656.2 V558.5 H1662.7 V572.3 H1669.0 V561.5 H1674.9 V584.6 H1681.3 V563.1 H1687.3 V592.3 H1693.5 V543.8 H1699.6 V613.8 H1705.2 V615.4 H1710.9 V563.1 H1717.7 V556.9 H1726.2 V573.8 H1734.2 V535.4 H1740.5 V519.2 H1746.3 V561.5 H1751.9 V579.2 H1757.3 V527.7 H1763.1 V532.3 H1769.2 V489.2 H1775.0 V495.4 H1780.1 V422.5 H1784.2 V146.2 H1794.2 V346.2 H1800.2 V470.0 H1805.2 V502.5 H1808.4 V520.0 H1811.5 V533.8 H1816.9 V546.2 H1822.3 V558.5 H1826.9 V573.8 H1831.5 V546.2 H1836.0 V633.8 H1840.2 V623.1 H1843.8 V604.6 H1848.1 V607.7 H1853.5 V613.8 H1858.8 V610.8 H1864.6 V607.7 H1870.0 V600.0 H1875.4 V610.8 H1881.2 V598.5 H1886.5 V623.1 H1891.9 V616.9 H1897.3 V604.6 H1903.1 V613.8 H1908.5 V616.9 H1913.5 V613.8 H1918.8 V607.7 H1923.8 V610.8 H1928.8 V586.2 H1933.8 V575.4 H1938.8 V558.5 H1943.8 V550.8 H1947.0 V233.8 H1957.5 V460.0 H1964.1 V580.0 H1968.8 V592.3 H1973.1 V620.0 H1977.3 V607.7 H1981.5 V646.2 H1986.5 V653.8 H1992.3 V632.3 H1997.3 V646.2 H2002.3 V627.7 H2008.5 V638.5 H2013.5 V661.5 H2017.7 V669.2 H2022.7 V669.2 H2028.1 V661.5 H2033.1 V647.7 H2037.7 V638.5 H2042.7 V630.8 H2045.8 V464.5 H2056.2 V653.8 H2064.2 V638.5 H2069.2 V663.1 H2074.2 V669.2 H2080.0 V681.5 H2085.0 V667.7 H2089.6 V687.7 H2094.6 V690.8 H2100.0 V676.9 H2105.4 V670.8 H2109.6 V692.3 H2114.2 V618.5 H2120.0 V664.6 H2125.4 V687.7 H2130.4 V676.9 H2135.8 V670.8 H2140.8 V703.1 H2146.2 V704.6 H2151.9 V707.7 H2156.5 V720.0 H2160.8 V693.8 H2165.4 V690.8 H2170.0 V652.3 H2175.4 V703.1 H2180.8 V707.7 H2185.4 V729.2 H2190.0 V735.4 H2195.0 V726.2 H2200.4 V729.2 H2205.0 V735.4 H2209.2 V701.5 H2214.2 V738.5 H2219.2 V741.5 H2223.7 V715.4 H2227.9 V738.5 H2232.7 V744.6 H2237.7 V753.8 H2242.3 V764.6 H2247.7 V729.2 H2253.1 V784.6 H2258.1 V764.6 H2263.1 V778.5 H2268.1 V775.4 H2273.8 V770.8 H2279.2 V764.6 H2283.5 V756.9 H2288.1 V775.4 H2293.1 V775.4 H2297.7 V790.8 H2302.3 V793.8 H2306.9 V790.8 H2311.5 V792.3 H2316.5 V781.5 H2321.5 V813.8 H2326.4 V790.8 H2331.4 V809.2 H2335.8 V821.5 H2339.5 V809.1 H2343.9 V801.3 H2348.5 V805.2 H2353.3 V822.1 H2359.2" stroke-width="4"/>
<path d="M394.4 74.7V121.0 M558.0 24.4V81.3 M653.7 126.4V140.7 M721.6 95.0V256.0 M774.2 95.0V188.7 M817.3 114.5V223.7 M853.6 213.7V240.5 M885.1 235.0V275.0 M912.9 292.5V371.0 M937.8 273.7V373.7 M960.3 336.0V378.7 M980.8 190.0V275.0 M999.7 356.0V457.5 M1017.2 376.0V417.5 M1033.5 209.5V331.0 M1048.7 241.0V358.7 M1063.0 277.0V335.0 M1076.5 363.7V491.0 M1089.3 365.0V493.7 M1101.4 312.0V333.0 M1112.9 405.0V480.0 M1124.2 277.0V340.0 M1134.2 328.8V492.5 M1145.0 475.0V600.0 M1154.2 380.0V502.5 M1163.8 412.5V508.8 M1173.8 387.5V496.2 M1181.8 332.5V511.2 M1190.0 382.5V415.0 M1197.5 296.2V390.0 M1205.8 308.8V382.5 M1212.5 380.0V467.5 M1220.0 517.5V572.5 M1227.5 332.5V500.0 M1233.8 345.0V401.2 M1243.2 348.8V471.2 M1256.2 392.5V432.5 M1268.0 415.0V452.5 M1280.0 383.8V465.0 M1289.2 385.0V428.8 M1300.8 357.5V476.2 M1311.2 467.5V521.2 M1320.0 407.5V548.8 M1329.2 388.8V430.0 M1338.8 440.0V498.8 M1346.8 422.5V560.0 M1356.2 376.2V417.5 M1363.8 393.8V541.2 M1370.0 511.2V563.8 M1378.8 402.5V470.0 M1385.0 385.0V457.5 M1392.5 400.0V442.5 M1399.2 413.8V477.5 M1406.2 416.2V465.0 M1412.0 423.8V525.0 M1420.0 416.2V485.0 M1428.8 447.5V508.8 M1437.5 472.5V541.2 M1445.8 517.5V563.8 M1453.8 476.2V520.0 M1461.8 471.2V521.2 M1469.5 495.0V532.5 M1476.8 431.2V480.0 M1483.2 463.8V505.0 M1490.8 463.8V541.2 M1497.5 480.0V525.0 M1505.0 496.2V560.0 M1516.2 522.5V656.2 M1523.0 491.2V577.5 M1530.0 491.2V542.5 M1537.0 517.5V585.0 M1543.8 507.5V560.0 M1550.8 530.0V585.0 M1558.8 520.0V570.0 M1566.2 526.2V564.6 M1571.5 570.8V613.8 M1576.9 589.2V660.0 M1583.1 490.8V640.0 M1589.2 553.8V606.2 M1595.1 580.0V644.6 M1602.8 522.3V566.2 M1608.9 598.5V676.2 M1616.2 518.5V581.5 M1622.3 547.7V592.3 M1627.7 526.2V573.8 M1633.1 550.8V592.3 M1640.8 570.8V620.0 M1646.9 553.8V592.3 M1653.1 590.8V636.2 M1659.2 534.6V584.6 M1666.2 560.0V592.3 M1671.8 543.1V581.5 M1678.0 561.5V609.2 M1684.6 542.3V596.2 M1690.0 573.8V616.9 M1696.9 522.3V567.7 M1702.3 573.8V615.4 M1708.0 589.2V644.6 M1713.8 546.2V584.6 M1721.5 534.6V583.1 M1730.8 553.8V616.9 M1737.7 518.5V576.9 M1743.4 500.0V556.9 M1749.2 543.1V581.5 M1754.6 560.0V596.9 M1760.0 514.6V548.5 M1766.2 527.7V565.4 M1772.3 470.8V513.8 M1777.7 480.0V533.1 M1782.5 407.5V440.0 M1789.2 138.8V152.5 M1797.5 333.8V358.8 M1803.0 457.5V495.0 M1807.5 487.5V520.0 M1809.2 508.2V533.6 M1813.8 522.1V547.3 M1820.0 534.5V559.6 M1824.6 546.8V571.8 M1829.2 562.3V587.7 M1833.8 530.8V559.4 M1838.2 622.4V647.7 M1842.3 611.7V636.2 M1845.4 570.0V617.7 M1850.8 596.4V620.7 M1856.2 602.6V626.8 M1861.5 599.6V623.7 M1867.7 596.6V620.5 M1872.3 578.5V612.7 M1878.5 599.8V623.4 M1883.8 583.1V611.1 M1889.2 612.2V647.7 M1894.6 606.1V629.4 M1900.0 590.8V617.0 M1906.2 603.1V626.2 M1910.8 606.3V629.2 M1916.2 603.1V627.7 M1921.5 597.2V619.8 M1926.2 600.3V622.8 M1931.5 575.7V598.1 M1936.2 565.0V587.3 M1941.5 548.1V570.3 M1946.2 543.1V584.6 M1952.2 226.2V240.0 M1961.2 443.8V477.5 M1966.9 570.0V591.5 M1970.8 582.3V603.8 M1975.4 610.1V631.4 M1979.2 590.8V619.1 M1983.8 636.3V657.5 M1989.2 644.1V672.3 M1995.4 618.5V643.5 M1999.2 636.5V664.6 M2005.4 610.8V638.7 M2011.5 628.9V649.4 M2015.4 652.0V672.5 M2020.0 659.8V680.1 M2025.4 659.8V687.7 M2030.8 652.2V672.3 M2035.4 638.4V658.4 M2040.0 629.2V649.1 M2045.4 621.6V641.3 M2051.0 456.2V470.0 M2061.5 644.8V664.2 M2066.9 633.8V648.8 M2071.5 654.1V673.4 M2076.9 660.2V679.6 M2083.1 672.5V695.4 M2086.9 653.8V678.0 M2092.3 678.7V698.0 M2096.9 681.8V703.1 M2103.1 667.9V687.3 M2107.7 653.8V681.1 M2111.5 683.3V712.3 M2116.9 610.8V628.8 M2123.1 655.6V675.0 M2127.7 678.7V707.7 M2133.1 667.9V687.3 M2138.5 661.8V681.1 M2143.1 694.1V713.4 M2149.2 695.6V715.0 M2154.6 698.7V718.0 M2158.5 711.0V730.8 M2163.1 684.8V704.2 M2167.7 681.8V701.1 M2172.3 642.3V662.7 M2178.5 694.1V713.4 M2183.1 698.7V718.0 M2187.7 720.2V739.6 M2192.3 726.4V750.8 M2197.7 717.2V736.5 M2203.1 720.2V739.6 M2206.9 726.4V745.7 M2211.5 693.8V711.9 M2216.9 729.5V748.8 M2221.5 732.5V755.4 M2225.8 710.0V725.7 M2230.0 729.5V748.8 M2235.4 735.6V755.0 M2240.0 744.8V764.2 M2244.6 755.6V775.0 M2250.8 718.5V739.6 M2255.4 775.6V793.8 M2260.8 755.6V775.0 M2265.4 769.5V793.8 M2270.8 766.4V785.7 M2276.9 761.8V781.1 M2281.5 755.6V775.0 M2285.4 753.1V767.3 M2290.8 766.4V798.5 M2295.4 766.4V785.7 M2300.0 781.8V801.1 M2304.6 784.8V804.2 M2309.2 781.8V801.1 M2313.8 783.3V802.7 M2319.2 773.1V791.9 M2323.8 804.8V826.2 M2328.9 781.8V801.1 M2333.8 800.2V819.6 M2337.7 812.5V831.9 M2341.3 800.1V819.5 M2346.5 792.3V811.7 M2350.4 796.2V815.6 M2356.2 792.3V828.6" stroke-width="5.6" stroke-opacity="0.68"/>
<rect x="1784.2" y="146.2" width="10.0" height="276.2" fill="#000" fill-opacity="0.42" stroke="none"/>
<rect x="1947.0" y="233.8" width="10.5" height="317.0" fill="#000" fill-opacity="0.42" stroke="none"/>
<rect x="2045.8" y="464.5" width="10.5" height="189.3" fill="#000" fill-opacity="0.42" stroke="none"/>
<path d="M346.5 1010.5 H490.1 V907.5 H610.6 V859.4 H690.0 V905.5 H749.4 V875.0 H796.7 V913.0 H836.1 V968.0 H869.9 V1000.0 H899.4 V975.0 H925.7 V1097.5 H949.3 V1090.0 H970.8 V957.5 H990.5 V1131.0 H1008.6 V1010.0 H1025.5 V1096.0 H1041.2 V1151.0 H1056.0 V1002.5 H1069.9 V1056.0 H1083.0 V1105.0 H1095.4 V1158.7 H1107.2 V1102.5 H1118.5 V1214.5 H1129.2 V1186.2 H1139.6 V1191.2 H1149.6 V1127.5 H1159.0 V1193.8 H1168.8 V1166.2 H1177.8 V1261.2 H1185.9 V1107.5 H1193.8 V1226.2 H1201.6 V1191.2 H1209.4 V1102.5 H1216.5 V1238.8 H1223.8 V1103.8 H1230.6 V1361.2 H1238.5 V1122.5 H1249.5 V1156.2 H1261.9 V1180.0 H1274.0 V1132.5 H1285.0 V1171.2 H1295.6 V1191.2 H1306.0 V1235.0 H1315.4 V1158.8 H1324.6 V1151.2 H1334.0 V1195.0 H1342.8 V1255.0 H1351.5 V1255.0 H1359.4 V1166.2 H1366.2 V1217.5 H1374.1 V1131.2 H1381.6 V1277.5 H1388.8 V1247.5 H1396.2 V1162.5 H1403.1 V1183.8 H1409.1 V1185.0 H1416.0 V1221.2 H1424.0 V1262.5 H1432.8 V1225.0 H1441.6 V1240.0 H1449.8 V1247.5 H1457.8 V1273.8 H1465.6 V1313.8 H1473.1 V1293.8 H1480.0 V1266.2 H1487.0 V1286.2 H1494.1 V1346.2 H1501.0 V1287.5 H1507.9 V1322.5 H1513.8 V1262.5 H1520.6 V1297.5 H1531.2 V1332.5 H1540.6 V1325.0 H1547.5 V1282.5 H1555.0 V1276.2 H1560.9 V1323.8 H1566.9 V1342.3 H1573.8 V1293.8 H1580.0 V1317.7 H1586.2 V1383.8 H1592.2 V1348.5 H1598.9 V1346.9 H1606.8 V1346.9 H1613.5 V1305.4 H1619.2 V1357.7 H1625.4 V1333.1 H1631.5 V1301.5 H1637.3 V1365.4 H1643.1 V1393.1 H1650.0 V1376.2 H1656.9 V1362.3 H1663.1 V1329.2 H1669.0 V1325.4 H1674.9 V1365.4 H1680.9 V1305.4 H1686.9 V1348.5 H1693.1 V1373.1 H1699.2 V1320.8 H1705.2 V1320.8 H1710.9 V1365.4 H1716.9 V1313.8 H1722.9 V1342.3 H1729.1 V1313.8 H1735.0 V1300.8 H1740.5 V1301.5 H1746.3 V1302.3 H1751.5 V1320.8 H1757.3 V1325.4 H1763.1 V1305.4 H1769.2 V1297.7 H1775.9 V1210.0 H1780.6 V1155.0 H1784.2 V871.2 H1794.2 V1118.8 H1799.8 V1215.0 H1803.9 V1270.0 H1808.5 V1302.5 H1815.0 V1270.0 H1820.9 V1317.7 H1823.8 V1315.0 H1826.9 V1326.9 H1831.9 V1330.0 H1836.4 V1373.1 H1841.4 V1360.8 H1847.7 V1350.0 H1853.8 V1396.2 H1859.6 V1396.2 H1865.0 V1365.4 H1870.0 V1368.5 H1875.4 V1357.7 H1881.2 V1373.1 H1886.9 V1403.8 H1892.7 V1388.5 H1897.7 V1393.1 H1902.3 V1364.6 H1907.3 V1403.8 H1913.1 V1408.5 H1918.5 V1364.6 H1923.5 V1408.5 H1928.8 V1373.1 H1933.8 V1357.7 H1939.2 V1340.8 H1944.6 V1345.4 H1947.0 V955.0 H1957.5 V1235.0 H1964.1 V1357.7 H1969.6 V1368.5 H1975.4 V1380.8 H1981.2 V1408.5 H1986.5 V1396.2 H1991.9 V1400.8 H1997.3 V1402.3 H2002.7 V1402.3 H2008.1 V1431.5 H2013.1 V1411.5 H2017.7 V1423.8 H2022.7 V1400.8 H2028.1 V1420.8 H2033.1 V1431.5 H2038.1 V1408.5 H2043.1 V1420.8 H2045.8 V1248.8 H2056.2 V1442.3 H2064.2 V1465.4 H2069.6 V1462.3 H2075.0 V1450.0 H2080.4 V1441.5 H2085.0 V1444.6 H2089.2 V1472.3 H2094.2 V1447.7 H2099.6 V1460.0 H2105.0 V1469.2 H2109.6 V1463.1 H2114.2 V1400.0 H2120.0 V1467.7 H2125.4 V1472.3 H2130.4 V1496.9 H2135.8 V1490.8 H2141.2 V1463.1 H2146.5 V1466.2 H2151.5 V1486.2 H2156.2 V1500.0 H2160.4 V1515.4 H2164.6 V1466.2 H2169.6 V1415.4 H2175.0 V1496.9 H2180.0 V1513.8 H2184.6 V1515.4 H2189.6 V1512.3 H2194.6 V1500.0 H2199.2 V1527.7 H2204.2 V1513.8 H2209.6 V1515.4 H2214.6 V1513.8 H2219.2 V1518.5 H2223.7 V1543.1 H2227.9 V1546.2 H2232.7 V1546.2 H2236.9 V1567.7 H2241.2 V1567.7 H2246.9 V1560.0 H2252.7 V1572.3 H2258.1 V1570.8 H2263.1 V1569.2 H2267.7 V1583.1 H2272.7 V1564.6 H2278.1 V1587.7 H2283.1 V1564.6 H2287.3 V1601.5 H2291.9 V1595.4 H2296.9 V1612.3 H2301.9 V1584.6 H2306.9 V1604.6 H2311.5 V1613.8 H2316.2 V1603.1 H2320.8 V1603.1 H2325.8 V1604.6 H2330.8 V1623.1 H2335.4 V1626.2 H2339.5 V1604.5 H2343.6 V1627.8 H2347.5 V1633.0 H2352.0 V1583.7 H2357.9" stroke-width="4"/>
<path d="M394.4 976.0V1058.0 M558.0 864.0V978.4 M653.7 840.0V909.7 M721.6 847.5V1045.0 M774.2 840.0V922.5 M817.3 872.5V976.0 M853.6 952.5V985.0 M885.1 991.0V1012.5 M912.9 923.7V1072.5 M937.8 1055.0V1171.0 M960.3 1035.0V1218.7 M980.8 912.5V1040.0 M999.7 1090.0V1201.0 M1017.2 963.7V1092.5 M1033.5 1067.5V1135.0 M1048.7 1082.5V1419.6 M1063.0 976.0V1035.0 M1076.5 1000.0V1182.5 M1089.3 1078.7V1140.0 M1101.4 1147.5V1167.5 M1112.9 1055.0V1186.0 M1124.2 1160.0V1331.2 M1134.2 1145.0V1257.5 M1145.0 1165.0V1227.5 M1154.2 1075.0V1242.5 M1163.8 1160.0V1246.2 M1173.8 1122.5V1242.5 M1181.8 1252.5V1270.0 M1190.0 1071.2V1160.0 M1197.5 1188.8V1286.2 M1205.8 1157.5V1237.5 M1213.0 1050.0V1220.0 M1220.0 1190.0V1331.2 M1227.5 1063.8V1175.0 M1233.8 1303.8V1509.2 M1243.2 1103.8V1146.2 M1255.8 1130.0V1190.0 M1268.0 1150.0V1275.0 M1280.0 1102.5V1172.5 M1290.0 1113.8V1295.0 M1301.2 1172.5V1212.5 M1310.8 1205.0V1277.5 M1320.0 1128.8V1202.5 M1329.2 1108.8V1218.8 M1338.8 1157.5V1255.0 M1346.8 1232.5V1282.5 M1356.2 1212.5V1330.0 M1362.5 1128.8V1217.5 M1370.0 1185.0V1266.2 M1378.2 1095.0V1187.5 M1385.0 1245.0V1322.5 M1392.5 1200.0V1331.2 M1400.0 1117.5V1235.0 M1406.2 1140.0V1252.5 M1412.0 1140.0V1273.8 M1420.0 1192.5V1262.5 M1428.0 1245.0V1290.0 M1437.5 1191.2V1270.0 M1445.8 1206.2V1291.2 M1453.8 1230.0V1272.5 M1461.8 1247.5V1310.0 M1469.5 1285.0V1353.8 M1476.8 1262.5V1338.8 M1483.2 1242.5V1295.0 M1490.8 1262.5V1312.5 M1497.5 1312.5V1397.5 M1504.5 1255.0V1335.0 M1511.2 1300.0V1347.5 M1516.2 1227.5V1315.0 M1525.0 1272.5V1330.0 M1537.5 1310.0V1362.5 M1543.8 1302.5V1353.8 M1551.2 1257.5V1320.0 M1558.8 1261.2V1291.2 M1563.1 1273.1V1368.5 M1570.8 1313.1V1385.4 M1576.9 1277.7V1317.7 M1583.1 1293.1V1340.8 M1589.2 1354.6V1414.6 M1595.1 1325.4V1382.3 M1602.8 1328.5V1370.0 M1610.8 1303.8V1366.9 M1616.2 1282.3V1334.6 M1622.3 1342.3V1377.7 M1628.5 1317.7V1377.7 M1634.6 1280.8V1333.1 M1640.0 1340.8V1397.7 M1646.2 1365.4V1425.4 M1653.8 1348.5V1414.6 M1660.0 1334.6V1396.2 M1666.2 1305.4V1357.7 M1671.8 1308.5V1350.0 M1678.0 1343.8V1394.6 M1683.8 1288.5V1350.0 M1690.0 1305.4V1394.6 M1696.2 1348.5V1401.5 M1702.3 1301.5V1350.0 M1708.0 1296.9V1348.5 M1713.8 1348.5V1385.4 M1720.0 1296.2V1342.3 M1725.8 1316.2V1365.4 M1732.3 1293.1V1334.6 M1737.7 1273.1V1326.9 M1743.4 1265.4V1354.6 M1749.2 1283.8V1326.9 M1753.8 1297.7V1348.5 M1760.8 1305.4V1354.6 M1765.4 1283.8V1333.1 M1773.1 1276.2V1323.8 M1778.8 1197.5V1240.0 M1782.5 1135.0V1182.5 M1789.2 866.2V877.5 M1797.5 1100.0V1140.0 M1802.0 1206.2V1243.8 M1805.8 1252.5V1295.0 M1811.2 1270.0V1325.0 M1818.8 1252.5V1290.0 M1823.1 1297.7V1339.2 M1824.5 1297.5V1335.0 M1829.2 1300.8V1354.6 M1834.6 1313.1V1356.2 M1838.2 1357.7V1388.5 M1844.6 1348.5V1405.4 M1850.8 1333.1V1382.3 M1856.9 1376.2V1425.4 M1862.3 1380.8V1416.2 M1867.7 1348.5V1388.5 M1872.3 1357.7V1413.1 M1878.5 1343.8V1388.5 M1883.8 1353.1V1405.4 M1890.0 1385.4V1422.3 M1895.4 1368.5V1420.8 M1900.0 1377.7V1420.8 M1904.6 1348.5V1405.4 M1910.0 1388.5V1428.5 M1916.2 1394.6V1430.0 M1920.8 1352.3V1380.8 M1926.2 1388.5V1428.5 M1931.5 1356.2V1413.1 M1936.2 1340.8V1390.0 M1942.3 1328.5V1362.3 M1946.9 1340.8V1377.7 M1952.2 947.5V962.5 M1961.2 1217.5V1257.5 M1966.9 1343.8V1370.0 M1972.3 1356.2V1385.4 M1978.5 1365.4V1410.0 M1983.8 1383.8V1430.0 M1989.2 1383.8V1420.8 M1994.6 1388.5V1420.8 M2000.0 1396.2V1425.4 M2005.4 1391.5V1416.2 M2010.8 1411.5V1454.6 M2015.4 1395.4V1431.5 M2020.0 1406.9V1440.8 M2025.4 1383.8V1420.8 M2030.8 1406.9V1437.7 M2035.4 1419.2V1450.0 M2040.8 1391.5V1437.7 M2045.4 1403.8V1437.7 M2051.0 1241.2V1260.0 M2061.5 1406.9V1465.4 M2066.9 1448.5V1488.5 M2072.3 1448.5V1480.8 M2077.7 1426.9V1473.1 M2083.1 1424.6V1456.9 M2086.9 1432.3V1466.2 M2091.5 1444.6V1489.2 M2096.9 1436.9V1466.2 M2102.3 1447.7V1475.4 M2107.7 1453.8V1481.5 M2111.5 1453.8V1478.5 M2116.9 1392.3V1469.2 M2123.1 1455.4V1486.2 M2127.7 1455.4V1487.7 M2133.1 1483.1V1512.3 M2138.5 1470.8V1512.3 M2143.8 1452.3V1480.0 M2149.2 1455.4V1496.9 M2153.8 1472.3V1512.3 M2158.5 1484.6V1533.8 M2162.3 1475.4V1544.6 M2166.9 1463.1V1532.3 M2172.3 1408.5V1478.5 M2177.7 1480.0V1524.6 M2182.3 1501.5V1541.5 M2186.9 1506.2V1533.8 M2192.3 1495.4V1527.7 M2196.9 1490.8V1541.5 M2201.5 1503.1V1552.3 M2206.9 1506.2V1541.5 M2212.3 1500.0V1533.8 M2216.9 1503.1V1533.8 M2221.5 1515.4V1549.2 M2225.8 1530.8V1561.5 M2230.0 1530.8V1556.9 M2235.4 1543.1V1569.2 M2238.5 1555.4V1589.2 M2243.8 1555.4V1587.7 M2250.0 1546.9V1576.9 M2255.4 1558.5V1587.7 M2260.8 1560.0V1583.1 M2265.4 1564.6V1592.3 M2270.0 1563.1V1604.6 M2275.4 1550.8V1592.3 M2280.8 1570.8V1604.6 M2285.4 1558.5V1592.3 M2289.2 1570.8V1627.7 M2294.6 1583.1V1615.4 M2299.2 1583.1V1632.3 M2304.6 1574.6V1603.1 M2309.2 1583.1V1630.8 M2313.8 1601.5V1626.2 M2318.5 1590.8V1613.8 M2323.1 1590.8V1613.8 M2328.5 1598.5V1624.6 M2333.1 1606.2V1640.0 M2337.7 1613.8V1644.6 M2341.3 1590.2V1633.0 M2345.9 1590.2V1648.6 M2349.1 1591.5V1652.5 M2355.0 1578.5V1612.3" stroke-width="5.6" stroke-opacity="0.68"/>
<rect x="1185.9" y="1107.5" width="7.9" height="153.8" fill="#000" fill-opacity="0.42" stroke="none"/>
<rect x="1223.8" y="1103.8" width="6.9" height="257.5" fill="#000" fill-opacity="0.42" stroke="none"/>
<rect x="1784.2" y="871.2" width="10.0" height="283.8" fill="#000" fill-opacity="0.42" stroke="none"/>
<rect x="1947.0" y="955.0" width="10.5" height="390.4" fill="#000" fill-opacity="0.42" stroke="none"/>
<rect x="2045.8" y="1248.8" width="10.5" height="193.6" fill="#000" fill-opacity="0.42" stroke="none"/>
<path d="M346.5 1817.6 H490.1 V1972.9 H610.6 V2003.5 H690.0 V2107.0 H749.4 V2197.0 H796.7 V2004.8 H836.1 V1955.7 H869.9 V1954.5 H899.4 V1968.8 H925.7 V2043.6 H949.3 V1924.7 H970.8 V2020.0 H990.5 V1906.7 H1008.6 V2033.0 H1025.5 V1898.0 H1041.2 V2095.0 H1056.0 V2086.0 H1069.9 V2043.0 H1083.0 V2083.0 H1095.4 V2007.5 H1107.2 V2470.5 H1118.5 V1988.0 H1129.2 V2090.0 H1139.4 V2080.0 H1149.3 V2001.0 H1158.7 V2470.5 H1167.8 V2134.0 H1176.5 V1956.0 H1185.0 V2470.5 H1193.1 V2352.5 H1201.0 V2151.0 H1208.6 V2067.5 H1216.0 V1957.5 H1223.1 V2134.0 H1230.1 V2007.5 H1236.8 V2053.0 H1249.7 V2106.0 H1262.0 V1997.5 H1273.7 V1976.0 H1284.8 V2149.0 H1295.4 V2097.5 H1305.5 V2062.5 H1315.3 V2071.0 H1324.6 V2090.0 H1333.6 V2127.0 H1342.3 V2024.0 H1350.6 V1990.0 H1358.7 V2352.5 H1366.5 V2160.0 H1374.0 V1967.5 H1381.3 V2092.0 H1388.7 V1964.0 H1396.2 V2004.0 H1402.5 V2115.0 H1408.5 V2088.0 H1416.0 V2115.0 H1424.0 V2049.0 H1432.5 V2197.0 H1441.5 V2028.0 H1450.0 V2004.0 H1458.0 V2098.0 H1466.0 V2052.0 H1473.0 V2072.0 H1480.0 V2138.0 H1487.9 V2068.0 H1494.8 V2079.9 H1501.3 V2047.3 H1507.2 V1960.2 H1513.1 V2003.7 H1519.6 V2002.7 H1525.5 V1987.9 H1532.4 V2011.6 H1539.8 V1964.2 H1546.3 V1952.3 H1552.7 V1934.5 H1560.6 V1924.6 H1568.5 V1931.5 H1574.9 V1952.3 H1580.9 V1916.7 H1586.8 V2012.6 H1593.2 V1928.6 H1599.7 V1999.8 H1606.1 V2011.6 H1613.0 V1969.1 H1619.4 V1985.9 H1626.4 V1984.9 H1633.3 V2051.2 H1639.2 V2078.9 H1645.2 V2023.5 H1651.1 V2003.7 H1657.0 V2040.3 H1663.0 V2051.2 H1669.4 V2051.2 H1676.3 V2055.2 H1682.7 V2144.2 H1688.7 V2080.9 H1694.6 V2102.6 H1700.1 V2150.1 H1705.5 V2056.2 H1711.4 V2102.6 H1717.4 V2040.3 H1723.3 V2114.5 H1729.2 V2004.7 H1735.2 V2053.2 H1741.1 V2053.2 H1747.0 V2096.7 H1753.0 V2137.6 H1758.9 V2175.2 H1764.3 V2090.8 H1769.8 V2047.3 H1775.7 V2098.7 H1781.2 V2098.7 H1784.2 V1698.0 H1794.8 V2022.0 H1798.3 V2118.0 H1804.0 V2092.0 H1809.5 V2130.0 H1815.0 V2210.0 H1821.0 V2175.0 H1826.5 V2096.0 H1831.5 V2114.0 H1837.0 V2075.0 H1842.5 V2195.0 H1848.0 V2120.0 H1854.0 V2156.0 H1859.5 V2080.0 H1865.0 V2048.0 H1870.5 V2112.0 H1876.0 V2202.0 H1882.0 V2100.0 H1888.0 V2108.0 H1894.5 V2242.0 H1901.0 V2100.0 H1906.5 V2206.0 H1912.0 V2250.0 H1918.0 V2142.0 H1924.0 V2228.0 H1929.5 V2163.0 H1934.5 V2126.0 H1939.7 V2470.5 H1946.6 V1862.0 H1957.6 V2228.0 H1961.0 V2204.0 H1966.5 V2218.0 H1972.0 V2198.0 H1977.5 V2166.0 H1982.5 V2266.0 H1987.5 V2144.0 H1992.5 V2166.0 H1997.5 V2166.0 H2002.5 V2298.0 H2008.0 V2236.0 H2014.0 V2272.0 H2019.5 V2202.0 H2024.0 V2218.0 H2029.0 V2296.0 H2035.0 V2270.0 H2040.3 V2270.0 H2046.8 V2102.0 H2054.0 V2290.0 H2059.5 V2204.0 H2064.5 V2296.0 H2070.0 V2334.0 H2075.5 V2210.0 H2081.0 V2210.0 H2086.0 V2350.0 H2092.0 V2242.0 H2099.4 V2262.5 H2105.5 V2360.3 H2112.5 V2240.3 H2119.4 V2281.8 H2126.3 V2232.9 H2134.6 V2317.8 H2141.1 V2323.4 H2146.2 V2266.2 H2153.1 V2213.5 H2161.8 V2225.5 H2171.5 V2205.2 H2178.9 V2343.7 H2186.3 V2290.2 H2196.5 V2280.9 H2206.2 V2245.8 H2214.9 V2386.2 H2222.3 V2249.5 H2228.3 V2295.7 H2233.8 V2295.7 H2242.2 V2297.5 H2251.4 V2340.0 H2257.4 V2408.3 H2262.5 V2340.0 H2268.5 V2343.7 H2275.8 V2264.3 H2282.8 V2317.8 H2287.8 V2450.8 H2294.3 V2321.5 H2301.7 V2349.2 H2306.8 V2253.2 H2311.4 V2190.5 H2316.5 V2402.8 H2321.5 V2413.8 H2326.6 V2347.4 H2333.1 V2297.5 H2339.1 V2360.3 H2344.6 V2332.6 H2352.0" stroke-width="4"/>
<path d="M394.4 1765.7V2128.2 M558.0 1911.6V2470.5 M653.7 1979.0V2036.0 M721.6 2038.0V2470.5 M774.2 2154.8V2297.8 M817.3 1950.4V2470.5 M853.6 1919.8V2024.0 M885.1 1936.0V1981.0 M912.9 1908.0V2470.5 M937.8 1989.0V2396.0 M960.3 1868.7V2470.5 M980.8 1958.6V2470.5 M999.7 1875.6V1956.5 M1017.2 2009.7V2065.0 M1033.5 1852.0V2018.0 M1048.7 2018.0V2470.5 M1063.0 2035.0V2414.0 M1076.5 1987.5V2470.5 M1089.3 2031.0V2396.0 M1101.4 1951.0V2470.5 M1112.9 2010.0V2470.5 M1123.9 1935.0V2470.5 M1134.4 2074.0V2112.0 M1144.4 2059.0V2112.0 M1154.0 1962.5V2080.0 M1163.3 2035.0V2470.5 M1172.2 2035.0V2470.5 M1180.8 1920.0V2017.0 M1189.1 2172.0V2470.5 M1197.1 2122.5V2470.5 M1204.8 2050.0V2470.5 M1212.3 2026.0V2150.0 M1219.6 1947.0V2010.0 M1226.6 2077.0V2470.5 M1233.4 1976.0V2060.0 M1243.4 2022.0V2107.0 M1255.9 2047.0V2470.5 M1267.9 1966.0V2051.0 M1279.3 1936.0V2072.0 M1290.1 2085.0V2470.5 M1300.5 2047.5V2311.0 M1310.4 2026.0V2127.5 M1320.0 2026.0V2196.0 M1329.1 2046.0V2195.0 M1338.0 2075.0V2470.5 M1346.5 2010.0V2035.0 M1354.7 1947.5V2090.0 M1362.6 2127.0V2470.5 M1370.3 2094.0V2470.5 M1377.7 1929.0V2047.5 M1385.0 2046.0V2230.0 M1392.4 1951.0V1980.0 M1400.0 1984.0V2032.0 M1405.0 2086.0V2144.0 M1412.0 2050.0V2157.0 M1420.0 2050.0V2470.5 M1428.0 2003.0V2162.0 M1437.0 2180.0V2470.5 M1446.0 1999.0V2072.0 M1454.0 1971.0V2028.0 M1462.0 2040.0V2470.5 M1470.0 2027.0V2088.0 M1476.0 2030.0V2164.0 M1484.0 2074.0V2470.5 M1491.9 2039.3V2116.5 M1497.8 2039.3V2160.0 M1504.7 2015.6V2096.7 M1509.7 1931.5V2031.4 M1516.6 1960.2V2078.9 M1522.5 1985.9V2025.5 M1528.5 1959.2V2037.4 M1536.4 1993.8V2025.5 M1543.3 1940.4V1993.8 M1549.2 1936.5V1972.1 M1556.2 1899.9V1995.8 M1565.1 1907.8V1942.4 M1572.0 1912.7V1964.2 M1577.9 1916.7V2027.5 M1583.8 1895.9V1952.3 M1589.8 1928.6V2035.4 M1596.7 1900.9V1999.8 M1602.6 1976.0V2039.3 M1609.6 1970.1V2063.1 M1616.5 1952.3V1989.9 M1622.4 1974.1V2013.6 M1630.3 1972.1V1999.8 M1636.3 2019.6V2102.6 M1642.2 2023.5V2102.6 M1648.1 2003.7V2055.2 M1654.1 1976.0V2039.3 M1660.0 2023.5V2065.1 M1665.9 2043.3V2086.8 M1672.9 2027.5V2090.8 M1679.8 2015.6V2136.3 M1685.7 2082.9V2379.0 M1691.6 2039.3V2171.9 M1697.6 2063.1V2192.0 M1702.5 2104.6V2272.1 M1708.5 2031.4V2102.6 M1714.4 2074.9V2148.5 M1720.3 2019.6V2061.1 M1726.3 2078.9V2177.2 M1732.2 1971.1V2067.0 M1738.1 2031.4V2084.8 M1744.1 2023.5V2102.6 M1750.0 2067.0V2134.3 M1755.9 2096.7V2238.5 M1761.9 2116.5V2238.5 M1766.8 2067.0V2124.4 M1772.7 2035.4V2084.8 M1778.7 2047.3V2157.4 M1783.6 2065.1V2157.4 M1789.4 1694.0V1703.0 M1795.6 1992.0V2052.0 M1801.0 2090.0V2470.5 M1807.0 2062.0V2186.0 M1812.0 2082.0V2226.0 M1818.0 2122.0V2470.5 M1824.0 2094.0V2348.0 M1829.0 2068.0V2136.0 M1834.0 2078.0V2180.0 M1840.0 2058.0V2092.0 M1845.0 2118.0V2296.0 M1851.0 2090.0V2162.0 M1857.0 2078.0V2307.0 M1862.0 2050.0V2120.0 M1868.0 2027.0V2108.0 M1873.0 2078.0V2152.0 M1879.0 2106.0V2302.0 M1885.0 2071.0V2140.0 M1891.0 2082.0V2148.0 M1898.0 2134.0V2470.5 M1904.0 2075.0V2136.0 M1909.0 2100.0V2470.5 M1915.0 2174.0V2470.5 M1921.0 2107.0V2200.0 M1927.0 2216.0V2470.5 M1932.0 2126.0V2470.5 M1937.0 2098.0V2470.5 M1942.4 2284.0V2470.5 M1952.0 1858.0V1868.0 M1958.0 2180.0V2470.5 M1964.0 2146.0V2470.5 M1969.0 2166.0V2470.5 M1975.0 2152.0V2326.0 M1980.0 2134.0V2220.0 M1985.0 2162.0V2470.5 M1990.0 2114.0V2192.0 M1995.0 2146.0V2288.0 M2000.0 2126.0V2252.0 M2005.0 2166.0V2470.5 M2011.0 2174.0V2470.5 M2017.0 2238.0V2470.5 M2022.0 2196.0V2272.0 M2026.0 2178.0V2470.5 M2032.0 2252.0V2470.5 M2038.0 2202.0V2470.5 M2042.6 2202.0V2470.5 M2051.0 2082.0V2470.5 M2057.0 2254.0V2470.5 M2062.0 2158.0V2326.0 M2067.0 2206.0V2470.5 M2073.0 2234.0V2470.5 M2078.0 2174.0V2470.5 M2084.0 2174.0V2284.0 M2088.0 2210.0V2470.5 M2096.0 2238.0V2470.5 M2102.8 2205.2V2470.5 M2108.3 2245.8V2470.5 M2116.6 2237.5V2470.5 M2122.2 2204.3V2470.5 M2130.5 2185.8V2470.5 M2138.8 2314.2V2470.5 M2143.4 2320.6V2470.5 M2148.9 2231.1V2470.5 M2157.2 2173.8V2470.5 M2166.5 2185.8V2470.5 M2176.6 2173.8V2470.5 M2181.2 2205.2V2470.5 M2191.4 2225.5V2470.5 M2201.5 2205.2V2470.5 M2210.8 2201.5V2470.5 M2219.1 2382.5V2470.5 M2225.5 2208.9V2338.2 M2231.1 2229.2V2470.5 M2236.6 2266.2V2470.5 M2247.7 2225.5V2470.5 M2255.1 2232.9V2470.5 M2259.7 2260.6V2470.5 M2265.2 2241.2V2470.5 M2271.7 2319.7V2470.5 M2280.0 2213.5V2470.5 M2285.5 2242.2V2470.5 M2290.2 2316.0V2470.5 M2298.5 2319.7V2470.5 M2304.9 2288.3V2470.5 M2308.6 2253.2V2470.5 M2314.2 2169.2V2351.1 M2318.8 2376.9V2470.5 M2324.3 2271.7V2470.5 M2328.9 2344.6V2470.5 M2337.2 2248.6V2470.5 M2340.9 2249.5V2470.5 M2348.3 2331.7V2470.5" stroke-width="5.6" stroke-opacity="0.68"/>
<rect x="1118.5" y="1988.0" width="10.7" height="482.5" fill="#000" fill-opacity="0.42" stroke="none"/>
<rect x="1176.5" y="1956.0" width="8.4" height="514.5" fill="#000" fill-opacity="0.42" stroke="none"/>
<rect x="1216.0" y="1957.5" width="7.2" height="176.5" fill="#000" fill-opacity="0.42" stroke="none"/>
<rect x="1374.0" y="1967.5" width="7.3" height="192.5" fill="#000" fill-opacity="0.42" stroke="none"/>
<rect x="1784.2" y="1698.0" width="10.6" height="400.7" fill="#000" fill-opacity="0.42" stroke="none"/>
<rect x="1901.0" y="2100.0" width="5.5" height="142.0" fill="#000" fill-opacity="0.42" stroke="none"/>
<rect x="1946.6" y="1862.0" width="11.0" height="608.5" fill="#000" fill-opacity="0.42" stroke="none"/>
<rect x="2046.8" y="2102.0" width="7.2" height="188.0" fill="#000" fill-opacity="0.42" stroke="none"/>
<rect x="1957.1" y="2180.0" width="4.4" height="290.5" fill="#000" fill-opacity="0.30" stroke="none"/>
<rect x="1957.1" y="2228.0" width="4.4" height="242.5" fill="#000" fill-opacity="0.33" stroke="none"/>
<rect x="1960.5" y="2146.0" width="6.5" height="324.5" fill="#000" fill-opacity="0.25" stroke="none"/>
<rect x="1960.5" y="2204.0" width="6.5" height="266.5" fill="#000" fill-opacity="0.27" stroke="none"/>
<rect x="1966.0" y="2166.0" width="6.5" height="304.5" fill="#000" fill-opacity="0.33" stroke="none"/>
<rect x="1966.0" y="2218.0" width="6.5" height="252.5" fill="#000" fill-opacity="0.36" stroke="none"/>
<rect x="1982.0" y="2162.0" width="6.0" height="308.5" fill="#000" fill-opacity="0.17" stroke="none"/>
<rect x="1982.0" y="2266.0" width="6.0" height="204.5" fill="#000" fill-opacity="0.18" stroke="none"/>
<rect x="2002.0" y="2166.0" width="6.5" height="304.5" fill="#000" fill-opacity="0.17" stroke="none"/>
<rect x="2002.0" y="2298.0" width="6.5" height="172.5" fill="#000" fill-opacity="0.18" stroke="none"/>
<rect x="2007.5" y="2174.0" width="7.0" height="296.5" fill="#000" fill-opacity="0.39" stroke="none"/>
<rect x="2007.5" y="2236.0" width="7.0" height="234.5" fill="#000" fill-opacity="0.42" stroke="none"/>
<rect x="2013.5" y="2238.0" width="6.5" height="232.5" fill="#000" fill-opacity="0.17" stroke="none"/>
<rect x="2013.5" y="2272.0" width="6.5" height="198.5" fill="#000" fill-opacity="0.18" stroke="none"/>
<rect x="2023.5" y="2178.0" width="6.0" height="292.5" fill="#000" fill-opacity="0.30" stroke="none"/>
<rect x="2023.5" y="2218.0" width="6.0" height="252.5" fill="#000" fill-opacity="0.33" stroke="none"/>
<rect x="2028.5" y="2252.0" width="7.0" height="218.5" fill="#000" fill-opacity="0.39" stroke="none"/>
<rect x="2028.5" y="2296.0" width="7.0" height="174.5" fill="#000" fill-opacity="0.42" stroke="none"/>
<rect x="2034.5" y="2202.0" width="6.3" height="268.5" fill="#000" fill-opacity="0.17" stroke="none"/>
<rect x="2034.5" y="2270.0" width="6.3" height="200.5" fill="#000" fill-opacity="0.18" stroke="none"/>
<rect x="2039.8" y="2202.0" width="7.5" height="268.5" fill="#000" fill-opacity="0.39" stroke="none"/>
<rect x="2039.8" y="2270.0" width="7.5" height="200.5" fill="#000" fill-opacity="0.42" stroke="none"/>
<rect x="2046.3" y="2082.0" width="8.2" height="388.5" fill="#000" fill-opacity="0.25" stroke="none"/>
<rect x="2046.3" y="2102.0" width="8.2" height="368.5" fill="#000" fill-opacity="0.27" stroke="none"/>
<rect x="2053.5" y="2254.0" width="6.5" height="216.5" fill="#000" fill-opacity="0.17" stroke="none"/>
<rect x="2053.5" y="2290.0" width="6.5" height="180.5" fill="#000" fill-opacity="0.18" stroke="none"/>
<rect x="2064.0" y="2206.0" width="6.5" height="264.5" fill="#000" fill-opacity="0.17" stroke="none"/>
<rect x="2064.0" y="2296.0" width="6.5" height="174.5" fill="#000" fill-opacity="0.18" stroke="none"/>
<rect x="2069.5" y="2234.0" width="6.5" height="236.5" fill="#000" fill-opacity="0.33" stroke="none"/>
<rect x="2069.5" y="2334.0" width="6.5" height="136.5" fill="#000" fill-opacity="0.36" stroke="none"/>
<rect x="2075.0" y="2174.0" width="6.5" height="296.5" fill="#000" fill-opacity="0.33" stroke="none"/>
<rect x="2075.0" y="2210.0" width="6.5" height="260.5" fill="#000" fill-opacity="0.36" stroke="none"/>
<rect x="2085.5" y="2210.0" width="7.0" height="260.5" fill="#000" fill-opacity="0.17" stroke="none"/>
<rect x="2085.5" y="2350.0" width="7.0" height="120.5" fill="#000" fill-opacity="0.18" stroke="none"/>
<rect x="2091.5" y="2238.0" width="8.4" height="232.5" fill="#000" fill-opacity="0.25" stroke="none"/>
<rect x="2091.5" y="2242.0" width="8.4" height="228.5" fill="#000" fill-opacity="0.27" stroke="none"/>
<rect x="2098.9" y="2205.2" width="7.2" height="265.3" fill="#000" fill-opacity="0.17" stroke="none"/>
<rect x="2098.9" y="2262.5" width="7.2" height="208.0" fill="#000" fill-opacity="0.18" stroke="none"/>
<rect x="2105.0" y="2245.8" width="7.9" height="224.7" fill="#000" fill-opacity="0.39" stroke="none"/>
<rect x="2105.0" y="2360.3" width="7.9" height="110.2" fill="#000" fill-opacity="0.42" stroke="none"/>
<rect x="2112.0" y="2237.5" width="7.9" height="233.0" fill="#000" fill-opacity="0.33" stroke="none"/>
<rect x="2112.0" y="2240.3" width="7.9" height="230.2" fill="#000" fill-opacity="0.36" stroke="none"/>
<rect x="2118.9" y="2204.3" width="7.9" height="266.2" fill="#000" fill-opacity="0.17" stroke="none"/>
<rect x="2118.9" y="2281.8" width="7.9" height="188.7" fill="#000" fill-opacity="0.18" stroke="none"/>
<rect x="2125.8" y="2185.8" width="9.3" height="284.7" fill="#000" fill-opacity="0.39" stroke="none"/>
<rect x="2125.8" y="2232.9" width="9.3" height="237.6" fill="#000" fill-opacity="0.42" stroke="none"/>
<rect x="2134.1" y="2314.2" width="7.5" height="156.3" fill="#000" fill-opacity="0.17" stroke="none"/>
<rect x="2134.1" y="2317.8" width="7.5" height="152.7" fill="#000" fill-opacity="0.18" stroke="none"/>
<rect x="2140.6" y="2320.6" width="6.1" height="149.9" fill="#000" fill-opacity="0.25" stroke="none"/>
<rect x="2140.6" y="2323.4" width="6.1" height="147.1" fill="#000" fill-opacity="0.27" stroke="none"/>
<rect x="2145.7" y="2231.1" width="7.9" height="239.4" fill="#000" fill-opacity="0.39" stroke="none"/>
<rect x="2145.7" y="2266.2" width="7.9" height="204.3" fill="#000" fill-opacity="0.42" stroke="none"/>
<rect x="2152.6" y="2173.8" width="9.8" height="296.7" fill="#000" fill-opacity="0.17" stroke="none"/>
<rect x="2152.6" y="2213.5" width="9.8" height="257.0" fill="#000" fill-opacity="0.18" stroke="none"/>
<rect x="2161.3" y="2185.8" width="10.7" height="284.7" fill="#000" fill-opacity="0.39" stroke="none"/>
<rect x="2161.3" y="2225.5" width="10.7" height="245.0" fill="#000" fill-opacity="0.42" stroke="none"/>
<rect x="2171.0" y="2173.8" width="8.4" height="296.7" fill="#000" fill-opacity="0.39" stroke="none"/>
<rect x="2171.0" y="2205.2" width="8.4" height="265.3" fill="#000" fill-opacity="0.42" stroke="none"/>
<rect x="2178.4" y="2205.2" width="8.4" height="265.3" fill="#000" fill-opacity="0.33" stroke="none"/>
<rect x="2178.4" y="2343.7" width="8.4" height="126.8" fill="#000" fill-opacity="0.36" stroke="none"/>
<rect x="2185.8" y="2225.5" width="11.2" height="245.0" fill="#000" fill-opacity="0.17" stroke="none"/>
<rect x="2185.8" y="2290.2" width="11.2" height="180.3" fill="#000" fill-opacity="0.18" stroke="none"/>
<rect x="2196.0" y="2205.2" width="10.7" height="265.3" fill="#000" fill-opacity="0.25" stroke="none"/>
<rect x="2196.0" y="2280.9" width="10.7" height="189.6" fill="#000" fill-opacity="0.27" stroke="none"/>
<rect x="2205.7" y="2201.5" width="9.8" height="269.0" fill="#000" fill-opacity="0.17" stroke="none"/>
<rect x="2205.7" y="2245.8" width="9.8" height="224.7" fill="#000" fill-opacity="0.18" stroke="none"/>
<rect x="2214.4" y="2382.5" width="8.4" height="88.0" fill="#000" fill-opacity="0.39" stroke="none"/>
<rect x="2214.4" y="2386.2" width="8.4" height="84.3" fill="#000" fill-opacity="0.42" stroke="none"/>
<rect x="2227.8" y="2229.2" width="6.5" height="241.3" fill="#000" fill-opacity="0.25" stroke="none"/>
<rect x="2227.8" y="2295.7" width="6.5" height="174.8" fill="#000" fill-opacity="0.27" stroke="none"/>
<rect x="2233.3" y="2266.2" width="9.3" height="204.3" fill="#000" fill-opacity="0.30" stroke="none"/>
<rect x="2233.3" y="2295.7" width="9.3" height="174.8" fill="#000" fill-opacity="0.33" stroke="none"/>
<rect x="2241.7" y="2225.5" width="10.2" height="245.0" fill="#000" fill-opacity="0.33" stroke="none"/>
<rect x="2241.7" y="2297.5" width="10.2" height="173.0" fill="#000" fill-opacity="0.36" stroke="none"/>
<rect x="2250.9" y="2232.9" width="7.0" height="237.6" fill="#000" fill-opacity="0.25" stroke="none"/>
<rect x="2250.9" y="2340.0" width="7.0" height="130.5" fill="#000" fill-opacity="0.27" stroke="none"/>
<rect x="2256.9" y="2260.6" width="6.1" height="209.9" fill="#000" fill-opacity="0.39" stroke="none"/>
<rect x="2256.9" y="2408.3" width="6.1" height="62.2" fill="#000" fill-opacity="0.42" stroke="none"/>
<rect x="2262.0" y="2241.2" width="7.0" height="229.3" fill="#000" fill-opacity="0.17" stroke="none"/>
<rect x="2262.0" y="2340.0" width="7.0" height="130.5" fill="#000" fill-opacity="0.18" stroke="none"/>
<rect x="2268.0" y="2319.7" width="8.4" height="150.8" fill="#000" fill-opacity="0.39" stroke="none"/>
<rect x="2268.0" y="2343.7" width="8.4" height="126.8" fill="#000" fill-opacity="0.42" stroke="none"/>
<rect x="2275.3" y="2213.5" width="7.9" height="257.0" fill="#000" fill-opacity="0.30" stroke="none"/>
<rect x="2275.3" y="2264.3" width="7.9" height="206.2" fill="#000" fill-opacity="0.33" stroke="none"/>
<rect x="2282.3" y="2242.2" width="6.1" height="228.3" fill="#000" fill-opacity="0.39" stroke="none"/>
<rect x="2282.3" y="2317.8" width="6.1" height="152.7" fill="#000" fill-opacity="0.42" stroke="none"/>
<rect x="2287.3" y="2316.0" width="7.5" height="154.5" fill="#000" fill-opacity="0.25" stroke="none"/>
<rect x="2287.3" y="2450.8" width="7.5" height="19.7" fill="#000" fill-opacity="0.27" stroke="none"/>
<rect x="2293.8" y="2319.7" width="8.4" height="150.8" fill="#000" fill-opacity="0.17" stroke="none"/>
<rect x="2293.8" y="2321.5" width="8.4" height="149.0" fill="#000" fill-opacity="0.18" stroke="none"/>
<rect x="2301.2" y="2288.3" width="6.1" height="182.2" fill="#000" fill-opacity="0.39" stroke="none"/>
<rect x="2301.2" y="2349.2" width="6.1" height="121.3" fill="#000" fill-opacity="0.42" stroke="none"/>
<rect x="2306.3" y="2253.2" width="5.6" height="217.3" fill="#000" fill-opacity="0.39" stroke="none"/>
<rect x="2306.3" y="2253.2" width="5.6" height="217.3" fill="#000" fill-opacity="0.42" stroke="none"/>
<rect x="2316.0" y="2376.9" width="6.1" height="93.6" fill="#000" fill-opacity="0.25" stroke="none"/>
<rect x="2316.0" y="2402.8" width="6.1" height="67.7" fill="#000" fill-opacity="0.27" stroke="none"/>
<rect x="2321.0" y="2271.7" width="6.1" height="198.8" fill="#000" fill-opacity="0.30" stroke="none"/>
<rect x="2321.0" y="2413.8" width="6.1" height="56.7" fill="#000" fill-opacity="0.33" stroke="none"/>
<rect x="2326.1" y="2344.6" width="7.5" height="125.9" fill="#000" fill-opacity="0.17" stroke="none"/>
<rect x="2326.1" y="2347.4" width="7.5" height="123.1" fill="#000" fill-opacity="0.18" stroke="none"/>
<rect x="2332.6" y="2248.6" width="7.0" height="221.9" fill="#000" fill-opacity="0.39" stroke="none"/>
<rect x="2332.6" y="2297.5" width="7.0" height="173.0" fill="#000" fill-opacity="0.42" stroke="none"/>
<rect x="2338.6" y="2249.5" width="6.5" height="221.0" fill="#000" fill-opacity="0.17" stroke="none"/>
<rect x="2338.6" y="2360.3" width="6.5" height="110.2" fill="#000" fill-opacity="0.18" stroke="none"/>
<rect x="2344.1" y="2331.7" width="8.4" height="138.8" fill="#000" fill-opacity="0.39" stroke="none"/>
<rect x="2344.1" y="2332.6" width="8.4" height="137.9" fill="#000" fill-opacity="0.42" stroke="none"/>
</g>
</g>
</svg>
</body></html>
